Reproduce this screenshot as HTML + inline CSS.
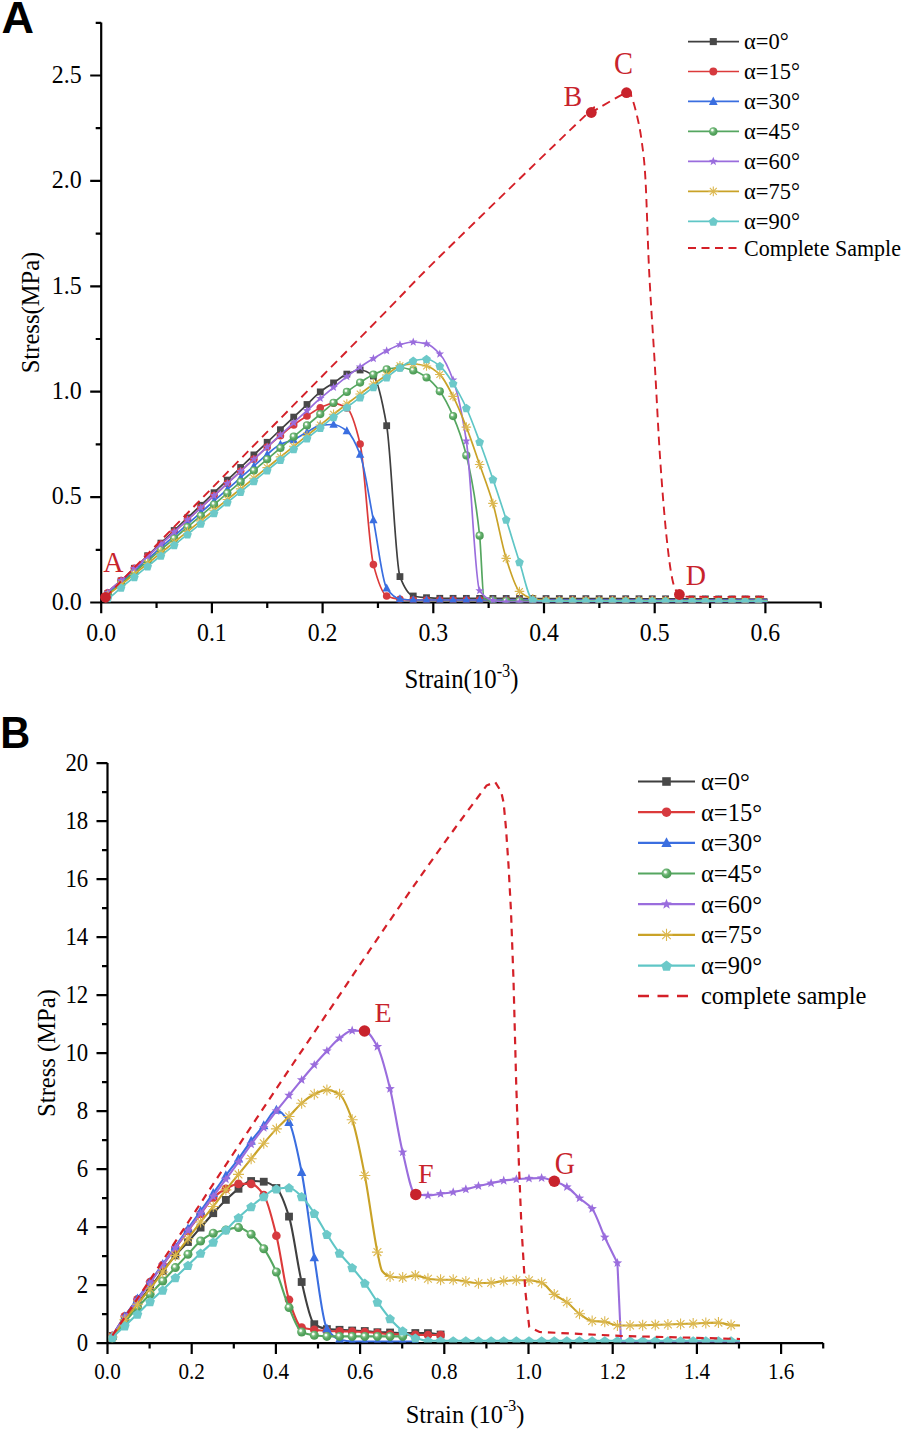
<!DOCTYPE html>
<html><head><meta charset="utf-8"><style>
html,body{margin:0;padding:0;background:#fff;width:901px;height:1431px;overflow:hidden}
svg{display:block}
</style></head><body>
<svg width="901" height="1431" viewBox="0 0 901 1431">
<defs>
<radialGradient id="sph" cx="0.42" cy="0.4" r="0.6" fx="0.38" fy="0.34">
<stop offset="0" stop-color="#ffffff"/><stop offset="0.16" stop-color="#f4fbf4"/><stop offset="0.34" stop-color="#86c48a"/><stop offset="0.62" stop-color="#5aa864"/><stop offset="1" stop-color="#4a9a53"/>
</radialGradient>
<clipPath id="clipA"><rect x="102.3" y="10" width="719" height="592.4"/></clipPath>
<clipPath id="clipB"><rect x="108.6" y="750" width="715" height="592.6"/></clipPath>
</defs>
<rect width="901" height="1431" fill="#fff"/>
<text transform="translate(1.60,32.60) scale(1.0,0.99)" x="0" y="0" font-family="'Liberation Sans', sans-serif" font-size="45" text-anchor="start" fill="#000" font-weight="bold" >A</text><path d="M101.2,602.5H821.5M101.2,22.5V602.5M101.20,602.5v10.8M211.90,602.5v10.8M322.60,602.5v10.8M433.30,602.5v10.8M544.00,602.5v10.8M654.70,602.5v10.8M765.40,602.5v10.8M156.55,602.5v5.5M267.25,602.5v5.5M377.95,602.5v5.5M488.65,602.5v5.5M599.35,602.5v5.5M710.05,602.5v5.5M820.75,602.5v5.5M101.2,602.50h-11M101.2,497.10h-11M101.2,391.70h-11M101.2,286.30h-11M101.2,180.90h-11M101.2,75.50h-11M101.2,549.80h-5.5M101.2,444.40h-5.5M101.2,339.00h-5.5M101.2,233.60h-5.5M101.2,128.20h-5.5M101.2,22.80h-5.5" stroke="#000" stroke-width="2.2" fill="none" stroke-linecap="butt"/><text transform="translate(101.20,641.00) scale(0.99,1.05)" x="0" y="0" font-family="'Liberation Serif', serif" font-size="24" text-anchor="middle" fill="#000" font-weight="normal" >0.0</text><text transform="translate(211.90,641.00) scale(0.99,1.05)" x="0" y="0" font-family="'Liberation Serif', serif" font-size="24" text-anchor="middle" fill="#000" font-weight="normal" >0.1</text><text transform="translate(322.60,641.00) scale(0.99,1.05)" x="0" y="0" font-family="'Liberation Serif', serif" font-size="24" text-anchor="middle" fill="#000" font-weight="normal" >0.2</text><text transform="translate(433.30,641.00) scale(0.99,1.05)" x="0" y="0" font-family="'Liberation Serif', serif" font-size="24" text-anchor="middle" fill="#000" font-weight="normal" >0.3</text><text transform="translate(544.00,641.00) scale(0.99,1.05)" x="0" y="0" font-family="'Liberation Serif', serif" font-size="24" text-anchor="middle" fill="#000" font-weight="normal" >0.4</text><text transform="translate(654.70,641.00) scale(0.99,1.05)" x="0" y="0" font-family="'Liberation Serif', serif" font-size="24" text-anchor="middle" fill="#000" font-weight="normal" >0.5</text><text transform="translate(765.40,641.00) scale(0.99,1.05)" x="0" y="0" font-family="'Liberation Serif', serif" font-size="24" text-anchor="middle" fill="#000" font-weight="normal" >0.6</text><text transform="translate(81.70,609.80) scale(1.0,1.09)" x="0" y="0" font-family="'Liberation Serif', serif" font-size="24" text-anchor="end" fill="#000" font-weight="normal" >0.0</text><text transform="translate(81.70,504.40) scale(1.0,1.09)" x="0" y="0" font-family="'Liberation Serif', serif" font-size="24" text-anchor="end" fill="#000" font-weight="normal" >0.5</text><text transform="translate(81.70,399.00) scale(1.0,1.09)" x="0" y="0" font-family="'Liberation Serif', serif" font-size="24" text-anchor="end" fill="#000" font-weight="normal" >1.0</text><text transform="translate(81.70,293.60) scale(1.0,1.09)" x="0" y="0" font-family="'Liberation Serif', serif" font-size="24" text-anchor="end" fill="#000" font-weight="normal" >1.5</text><text transform="translate(81.70,188.20) scale(1.0,1.09)" x="0" y="0" font-family="'Liberation Serif', serif" font-size="24" text-anchor="end" fill="#000" font-weight="normal" >2.0</text><text transform="translate(81.70,82.80) scale(1.0,1.09)" x="0" y="0" font-family="'Liberation Serif', serif" font-size="24" text-anchor="end" fill="#000" font-weight="normal" >2.5</text><text x="0.00" y="0.00" font-family="'Liberation Serif', serif" font-size="24.6" text-anchor="middle" fill="#000" font-weight="normal" transform="translate(38.9,312.5) rotate(-90) scale(1,1.03)">Stress(MPa)</text><text transform="translate(461.5,688) scale(1,1.08)" x="0" y="0" font-family="'Liberation Serif', serif" font-size="24.8" text-anchor="middle">Strain(10<tspan font-size="16.5" dy="-10.5">-3</tspan><tspan dy="10.5">)</tspan></text><g clip-path="url(#clipA)"><path d="M105.00,599.00C105.93,597.17 106.87,594.79 107.80,593.50C112.23,587.37 116.65,585.10 121.08,580.90C125.51,576.70 129.93,572.50 134.36,568.30C138.79,564.10 143.21,559.90 147.64,555.70C152.07,551.50 156.49,547.30 160.92,543.10C165.35,538.90 169.77,534.70 174.20,530.50C178.63,526.30 183.05,522.10 187.48,517.90C191.91,513.70 196.33,509.50 200.76,505.30C205.19,501.10 209.61,496.90 214.04,492.70C218.47,488.50 222.89,484.30 227.32,480.10C231.75,475.90 236.17,471.70 240.60,467.50C245.03,463.30 249.45,459.10 253.88,454.90C258.31,450.70 262.73,446.50 267.16,442.30C271.59,438.10 276.01,433.90 280.44,429.70C284.87,425.50 289.29,421.30 293.72,417.10C298.15,412.90 302.57,408.70 307.00,404.50C311.43,400.30 315.85,395.40 320.28,391.90C324.71,388.40 329.13,385.87 333.56,382.90C337.99,379.93 342.41,375.96 346.84,374.10C351.27,372.24 355.69,370.00 360.12,370.00C364.55,370.00 368.97,372.43 373.40,376.00C377.83,379.57 382.25,400.78 386.68,425.70C391.11,450.62 395.53,565.14 399.96,576.60C404.39,588.06 408.81,594.96 413.24,596.00C417.67,597.04 422.09,597.40 426.52,597.70C430.95,598.00 435.37,598.28 439.80,598.30C444.23,598.32 448.65,598.32 453.08,598.33C457.51,598.34 461.93,598.35 466.36,598.36C470.79,598.37 475.21,598.38 479.64,598.39C484.07,598.40 488.49,598.41 492.92,598.42C497.35,598.43 501.77,598.44 506.20,598.45C510.63,598.46 515.05,598.47 519.48,598.48C523.91,598.49 528.33,598.50 532.76,598.51C537.19,598.52 541.61,598.53 546.04,598.54C550.47,598.55 554.89,598.56 559.32,598.57C563.75,598.58 568.17,598.59 572.60,598.60C577.03,598.61 581.45,598.62 585.88,598.63C590.31,598.64 594.73,598.65 599.16,598.66C603.59,598.67 608.01,598.68 612.44,598.69C616.87,598.70 621.29,598.71 625.72,598.72C630.15,598.73 634.57,598.74 639.00,598.75C643.43,598.76 647.85,598.77 652.28,598.78C656.71,598.79 661.13,598.80 665.56,598.81C669.99,598.82 674.41,598.83 678.84,598.84C683.27,598.85 687.69,598.86 692.12,598.87C696.55,598.88 700.97,598.89 705.40,598.90C709.83,598.91 714.25,598.92 718.68,598.93C723.11,598.94 727.53,598.95 731.96,598.96C736.39,598.97 740.81,598.98 745.24,598.99C749.67,599.00 754.09,599.02 758.52,599.02C761.51,599.02 764.51,599.02 767.50,599.02" stroke="#3f3f3f" stroke-width="1.7" fill="none" stroke-linejoin="round"/><rect x="104.40" y="590.10" width="6.80" height="6.80" fill="#484848"/><rect x="117.68" y="577.50" width="6.80" height="6.80" fill="#484848"/><rect x="130.96" y="564.90" width="6.80" height="6.80" fill="#484848"/><rect x="144.24" y="552.30" width="6.80" height="6.80" fill="#484848"/><rect x="157.52" y="539.70" width="6.80" height="6.80" fill="#484848"/><rect x="170.80" y="527.10" width="6.80" height="6.80" fill="#484848"/><rect x="184.08" y="514.50" width="6.80" height="6.80" fill="#484848"/><rect x="197.36" y="501.90" width="6.80" height="6.80" fill="#484848"/><rect x="210.64" y="489.30" width="6.80" height="6.80" fill="#484848"/><rect x="223.92" y="476.70" width="6.80" height="6.80" fill="#484848"/><rect x="237.20" y="464.10" width="6.80" height="6.80" fill="#484848"/><rect x="250.48" y="451.50" width="6.80" height="6.80" fill="#484848"/><rect x="263.76" y="438.90" width="6.80" height="6.80" fill="#484848"/><rect x="277.04" y="426.30" width="6.80" height="6.80" fill="#484848"/><rect x="290.32" y="413.70" width="6.80" height="6.80" fill="#484848"/><rect x="303.60" y="401.10" width="6.80" height="6.80" fill="#484848"/><rect x="316.88" y="388.50" width="6.80" height="6.80" fill="#484848"/><rect x="330.16" y="379.50" width="6.80" height="6.80" fill="#484848"/><rect x="343.44" y="370.70" width="6.80" height="6.80" fill="#484848"/><rect x="356.72" y="366.60" width="6.80" height="6.80" fill="#484848"/><rect x="370.00" y="372.60" width="6.80" height="6.80" fill="#484848"/><rect x="383.28" y="422.30" width="6.80" height="6.80" fill="#484848"/><rect x="396.56" y="573.20" width="6.80" height="6.80" fill="#484848"/><rect x="409.84" y="592.60" width="6.80" height="6.80" fill="#484848"/><rect x="423.12" y="594.30" width="6.80" height="6.80" fill="#484848"/><rect x="436.40" y="594.90" width="6.80" height="6.80" fill="#484848"/><rect x="449.68" y="594.93" width="6.80" height="6.80" fill="#484848"/><rect x="462.96" y="594.96" width="6.80" height="6.80" fill="#484848"/><rect x="476.24" y="594.99" width="6.80" height="6.80" fill="#484848"/><rect x="489.52" y="595.02" width="6.80" height="6.80" fill="#484848"/><rect x="502.80" y="595.05" width="6.80" height="6.80" fill="#484848"/><rect x="516.08" y="595.08" width="6.80" height="6.80" fill="#484848"/><rect x="529.36" y="595.11" width="6.80" height="6.80" fill="#484848"/><rect x="542.64" y="595.14" width="6.80" height="6.80" fill="#484848"/><rect x="555.92" y="595.17" width="6.80" height="6.80" fill="#484848"/><rect x="569.20" y="595.20" width="6.80" height="6.80" fill="#484848"/><rect x="582.48" y="595.23" width="6.80" height="6.80" fill="#484848"/><rect x="595.76" y="595.26" width="6.80" height="6.80" fill="#484848"/><rect x="609.04" y="595.29" width="6.80" height="6.80" fill="#484848"/><rect x="622.32" y="595.32" width="6.80" height="6.80" fill="#484848"/><rect x="635.60" y="595.35" width="6.80" height="6.80" fill="#484848"/><rect x="648.88" y="595.38" width="6.80" height="6.80" fill="#484848"/><rect x="662.16" y="595.41" width="6.80" height="6.80" fill="#484848"/><rect x="675.44" y="595.44" width="6.80" height="6.80" fill="#484848"/><rect x="688.72" y="595.47" width="6.80" height="6.80" fill="#484848"/><rect x="702.00" y="595.50" width="6.80" height="6.80" fill="#484848"/><rect x="715.28" y="595.53" width="6.80" height="6.80" fill="#484848"/><rect x="728.56" y="595.56" width="6.80" height="6.80" fill="#484848"/><rect x="741.84" y="595.59" width="6.80" height="6.80" fill="#484848"/><rect x="755.12" y="595.62" width="6.80" height="6.80" fill="#484848"/><path d="M105.00,599.00C105.93,596.90 106.87,594.04 107.80,592.70C112.23,586.36 116.65,584.61 121.08,580.56C125.51,576.51 129.93,572.47 134.36,568.42C138.79,564.37 143.21,560.33 147.64,556.28C152.07,552.23 156.49,548.19 160.92,544.14C165.35,540.09 169.77,536.05 174.20,532.00C178.63,527.95 183.05,523.91 187.48,519.86C191.91,515.81 196.33,511.77 200.76,507.72C205.19,503.67 209.61,499.63 214.04,495.58C218.47,491.53 222.89,487.49 227.32,483.44C231.75,479.39 236.17,475.35 240.60,471.30C245.03,467.25 249.45,463.21 253.88,459.16C258.31,455.11 262.73,450.93 267.16,447.02C271.59,443.11 276.01,439.38 280.44,435.70C284.87,432.02 289.29,428.15 293.72,424.90C298.15,421.65 302.57,418.86 307.00,416.00C311.43,413.14 315.85,409.62 320.28,407.70C324.71,405.78 329.13,403.30 333.56,403.30C337.99,403.30 342.41,405.23 346.84,408.00C351.27,410.77 355.69,425.52 360.12,444.00C364.55,462.48 368.97,547.99 373.40,564.60C377.83,581.21 382.25,594.01 386.68,596.00C391.11,597.99 395.53,598.91 399.96,599.30C404.39,599.68 408.81,600.00 413.24,600.00C417.67,600.00 422.09,600.00 426.52,600.00C430.95,600.00 435.37,600.00 439.80,600.00C444.23,600.00 448.65,600.00 453.08,600.00C457.51,600.00 461.93,600.00 466.36,600.00C470.79,600.00 475.21,600.00 479.64,600.00C484.07,600.00 488.49,600.00 492.92,600.00C497.35,600.00 501.77,600.00 506.20,600.00C510.63,600.00 515.05,600.00 519.48,600.00C523.91,600.00 528.33,600.00 532.76,600.00C537.19,600.00 541.61,600.00 546.04,600.00C550.47,600.00 554.89,600.00 559.32,600.00C563.75,600.00 568.17,600.00 572.60,600.00C577.03,600.00 581.45,600.00 585.88,600.00C590.31,600.00 594.73,600.00 599.16,600.00C603.59,600.00 608.01,600.00 612.44,600.00C616.87,600.00 621.29,600.00 625.72,600.00C630.15,600.00 634.57,600.00 639.00,600.00C643.43,600.00 647.85,600.00 652.28,600.00C656.71,600.00 661.13,600.00 665.56,600.00C669.99,600.00 674.41,600.00 678.84,600.00C683.27,600.00 687.69,600.00 692.12,600.00C696.55,600.00 700.97,600.00 705.40,600.00C709.83,600.00 714.25,600.00 718.68,600.00C723.11,600.00 727.53,600.00 731.96,600.00C736.39,600.00 740.81,600.00 745.24,600.00C749.67,600.00 754.09,600.00 758.52,600.00C761.51,600.00 764.51,600.00 767.50,600.00" stroke="#dc3a3a" stroke-width="1.7" fill="none" stroke-linejoin="round"/><circle cx="107.80" cy="592.70" r="3.80" fill="#d63a3f"/><circle cx="121.08" cy="580.56" r="3.80" fill="#d63a3f"/><circle cx="134.36" cy="568.42" r="3.80" fill="#d63a3f"/><circle cx="147.64" cy="556.28" r="3.80" fill="#d63a3f"/><circle cx="160.92" cy="544.14" r="3.80" fill="#d63a3f"/><circle cx="174.20" cy="532.00" r="3.80" fill="#d63a3f"/><circle cx="187.48" cy="519.86" r="3.80" fill="#d63a3f"/><circle cx="200.76" cy="507.72" r="3.80" fill="#d63a3f"/><circle cx="214.04" cy="495.58" r="3.80" fill="#d63a3f"/><circle cx="227.32" cy="483.44" r="3.80" fill="#d63a3f"/><circle cx="240.60" cy="471.30" r="3.80" fill="#d63a3f"/><circle cx="253.88" cy="459.16" r="3.80" fill="#d63a3f"/><circle cx="267.16" cy="447.02" r="3.80" fill="#d63a3f"/><circle cx="280.44" cy="435.70" r="3.80" fill="#d63a3f"/><circle cx="293.72" cy="424.90" r="3.80" fill="#d63a3f"/><circle cx="307.00" cy="416.00" r="3.80" fill="#d63a3f"/><circle cx="320.28" cy="407.70" r="3.80" fill="#d63a3f"/><circle cx="333.56" cy="403.30" r="3.80" fill="#d63a3f"/><circle cx="346.84" cy="408.00" r="3.80" fill="#d63a3f"/><circle cx="360.12" cy="444.00" r="3.80" fill="#d63a3f"/><circle cx="373.40" cy="564.60" r="3.80" fill="#d63a3f"/><circle cx="386.68" cy="596.00" r="3.80" fill="#d63a3f"/><circle cx="399.96" cy="599.30" r="3.80" fill="#d63a3f"/><circle cx="413.24" cy="600.00" r="3.80" fill="#d63a3f"/><circle cx="426.52" cy="600.00" r="3.80" fill="#d63a3f"/><circle cx="439.80" cy="600.00" r="3.80" fill="#d63a3f"/><circle cx="453.08" cy="600.00" r="3.80" fill="#d63a3f"/><circle cx="466.36" cy="600.00" r="3.80" fill="#d63a3f"/><circle cx="479.64" cy="600.00" r="3.80" fill="#d63a3f"/><circle cx="492.92" cy="600.00" r="3.80" fill="#d63a3f"/><circle cx="506.20" cy="600.00" r="3.80" fill="#d63a3f"/><circle cx="519.48" cy="600.00" r="3.80" fill="#d63a3f"/><circle cx="532.76" cy="600.00" r="3.80" fill="#d63a3f"/><circle cx="546.04" cy="600.00" r="3.80" fill="#d63a3f"/><circle cx="559.32" cy="600.00" r="3.80" fill="#d63a3f"/><circle cx="572.60" cy="600.00" r="3.80" fill="#d63a3f"/><circle cx="585.88" cy="600.00" r="3.80" fill="#d63a3f"/><circle cx="599.16" cy="600.00" r="3.80" fill="#d63a3f"/><circle cx="612.44" cy="600.00" r="3.80" fill="#d63a3f"/><circle cx="625.72" cy="600.00" r="3.80" fill="#d63a3f"/><circle cx="639.00" cy="600.00" r="3.80" fill="#d63a3f"/><circle cx="652.28" cy="600.00" r="3.80" fill="#d63a3f"/><circle cx="665.56" cy="600.00" r="3.80" fill="#d63a3f"/><circle cx="678.84" cy="600.00" r="3.80" fill="#d63a3f"/><circle cx="692.12" cy="600.00" r="3.80" fill="#d63a3f"/><circle cx="705.40" cy="600.00" r="3.80" fill="#d63a3f"/><circle cx="718.68" cy="600.00" r="3.80" fill="#d63a3f"/><circle cx="731.96" cy="600.00" r="3.80" fill="#d63a3f"/><circle cx="745.24" cy="600.00" r="3.80" fill="#d63a3f"/><circle cx="758.52" cy="600.00" r="3.80" fill="#d63a3f"/><path d="M105.00,599.00C105.93,597.33 106.87,595.18 107.80,594.00C112.23,588.38 116.65,586.25 121.08,582.37C125.51,578.49 129.93,574.62 134.36,570.74C138.79,566.86 143.21,562.99 147.64,559.11C152.07,555.23 156.49,551.36 160.92,547.48C165.35,543.60 169.77,539.73 174.20,535.85C178.63,531.97 183.05,528.10 187.48,524.22C191.91,520.34 196.33,516.47 200.76,512.59C205.19,508.71 209.61,504.84 214.04,500.96C218.47,497.08 222.89,493.21 227.32,489.33C231.75,485.45 236.17,481.58 240.60,477.70C245.03,473.82 249.45,469.95 253.88,466.07C258.31,462.19 262.73,458.01 267.16,454.40C271.59,450.79 276.01,446.38 280.44,444.30C284.87,442.22 289.29,441.69 293.72,439.80C298.15,437.91 302.57,434.49 307.00,432.10C311.43,429.71 315.85,425.93 320.28,425.40C324.71,424.87 329.13,424.50 333.56,424.50C337.99,424.50 342.41,427.61 346.84,431.00C351.27,434.39 355.69,442.97 360.12,454.50C364.55,466.03 368.97,497.73 373.40,520.00C377.83,542.27 382.25,581.98 386.68,588.20C391.11,594.42 395.53,598.39 399.96,599.00C404.39,599.61 408.81,600.00 413.24,600.00C417.67,600.00 422.09,600.00 426.52,600.00C430.95,600.00 435.37,600.00 439.80,600.00C444.23,600.00 448.65,600.00 453.08,600.00C457.51,600.00 461.93,600.00 466.36,600.00C470.79,600.00 475.21,600.00 479.64,600.00C484.07,600.00 488.49,600.00 492.92,600.00C497.35,600.00 501.77,600.00 506.20,600.00C510.63,600.00 515.05,600.00 519.48,600.00C523.91,600.00 528.33,600.00 532.76,600.00C537.19,600.00 541.61,600.00 546.04,600.00C550.47,600.00 554.89,600.00 559.32,600.00C563.75,600.00 568.17,600.00 572.60,600.00C577.03,600.00 581.45,600.00 585.88,600.00C590.31,600.00 594.73,600.00 599.16,600.00C603.59,600.00 608.01,600.00 612.44,600.00C616.87,600.00 621.29,600.00 625.72,600.00C630.15,600.00 634.57,600.00 639.00,600.00C643.43,600.00 647.85,600.00 652.28,600.00C656.71,600.00 661.13,600.00 665.56,600.00C669.99,600.00 674.41,600.00 678.84,600.00C683.27,600.00 687.69,600.00 692.12,600.00C696.55,600.00 700.97,600.00 705.40,600.00C709.83,600.00 714.25,600.00 718.68,600.00C723.11,600.00 727.53,600.00 731.96,600.00C736.39,600.00 740.81,600.00 745.24,600.00C749.67,600.00 754.09,600.00 758.52,600.00C761.51,600.00 764.51,600.00 767.50,600.00" stroke="#3a6ee0" stroke-width="1.7" fill="none" stroke-linejoin="round"/><path d="M107.80,589.37L112.00,597.35L103.60,597.35Z" fill="#3a6ee0"/><path d="M121.08,577.74L125.28,585.72L116.88,585.72Z" fill="#3a6ee0"/><path d="M134.36,566.11L138.56,574.09L130.16,574.09Z" fill="#3a6ee0"/><path d="M147.64,554.48L151.84,562.46L143.44,562.46Z" fill="#3a6ee0"/><path d="M160.92,542.85L165.12,550.83L156.72,550.83Z" fill="#3a6ee0"/><path d="M174.20,531.22L178.40,539.20L170.00,539.20Z" fill="#3a6ee0"/><path d="M187.48,519.59L191.68,527.57L183.28,527.57Z" fill="#3a6ee0"/><path d="M200.76,507.96L204.96,515.94L196.56,515.94Z" fill="#3a6ee0"/><path d="M214.04,496.33L218.24,504.31L209.84,504.31Z" fill="#3a6ee0"/><path d="M227.32,484.70L231.52,492.68L223.12,492.68Z" fill="#3a6ee0"/><path d="M240.60,473.07L244.80,481.05L236.40,481.05Z" fill="#3a6ee0"/><path d="M253.88,461.44L258.08,469.42L249.68,469.42Z" fill="#3a6ee0"/><path d="M267.16,449.77L271.36,457.75L262.96,457.75Z" fill="#3a6ee0"/><path d="M280.44,439.67L284.64,447.65L276.24,447.65Z" fill="#3a6ee0"/><path d="M293.72,435.17L297.92,443.15L289.52,443.15Z" fill="#3a6ee0"/><path d="M307.00,427.47L311.20,435.45L302.80,435.45Z" fill="#3a6ee0"/><path d="M320.28,420.77L324.48,428.75L316.08,428.75Z" fill="#3a6ee0"/><path d="M333.56,419.87L337.76,427.85L329.36,427.85Z" fill="#3a6ee0"/><path d="M346.84,426.37L351.04,434.35L342.64,434.35Z" fill="#3a6ee0"/><path d="M360.12,449.87L364.32,457.85L355.92,457.85Z" fill="#3a6ee0"/><path d="M373.40,515.37L377.60,523.35L369.20,523.35Z" fill="#3a6ee0"/><path d="M386.68,583.57L390.88,591.55L382.48,591.55Z" fill="#3a6ee0"/><path d="M399.96,594.37L404.16,602.35L395.76,602.35Z" fill="#3a6ee0"/><path d="M413.24,595.37L417.44,603.35L409.04,603.35Z" fill="#3a6ee0"/><path d="M426.52,595.37L430.72,603.35L422.32,603.35Z" fill="#3a6ee0"/><path d="M439.80,595.37L444.00,603.35L435.60,603.35Z" fill="#3a6ee0"/><path d="M453.08,595.37L457.28,603.35L448.88,603.35Z" fill="#3a6ee0"/><path d="M466.36,595.37L470.56,603.35L462.16,603.35Z" fill="#3a6ee0"/><path d="M479.64,595.37L483.84,603.35L475.44,603.35Z" fill="#3a6ee0"/><path d="M492.92,595.37L497.12,603.35L488.72,603.35Z" fill="#3a6ee0"/><path d="M506.20,595.37L510.40,603.35L502.00,603.35Z" fill="#3a6ee0"/><path d="M519.48,595.37L523.68,603.35L515.28,603.35Z" fill="#3a6ee0"/><path d="M532.76,595.37L536.96,603.35L528.56,603.35Z" fill="#3a6ee0"/><path d="M546.04,595.37L550.24,603.35L541.84,603.35Z" fill="#3a6ee0"/><path d="M559.32,595.37L563.52,603.35L555.12,603.35Z" fill="#3a6ee0"/><path d="M572.60,595.37L576.80,603.35L568.40,603.35Z" fill="#3a6ee0"/><path d="M585.88,595.37L590.08,603.35L581.68,603.35Z" fill="#3a6ee0"/><path d="M599.16,595.37L603.36,603.35L594.96,603.35Z" fill="#3a6ee0"/><path d="M612.44,595.37L616.64,603.35L608.24,603.35Z" fill="#3a6ee0"/><path d="M625.72,595.37L629.92,603.35L621.52,603.35Z" fill="#3a6ee0"/><path d="M639.00,595.37L643.20,603.35L634.80,603.35Z" fill="#3a6ee0"/><path d="M652.28,595.37L656.48,603.35L648.08,603.35Z" fill="#3a6ee0"/><path d="M665.56,595.37L669.76,603.35L661.36,603.35Z" fill="#3a6ee0"/><path d="M678.84,595.37L683.04,603.35L674.64,603.35Z" fill="#3a6ee0"/><path d="M692.12,595.37L696.32,603.35L687.92,603.35Z" fill="#3a6ee0"/><path d="M705.40,595.37L709.60,603.35L701.20,603.35Z" fill="#3a6ee0"/><path d="M718.68,595.37L722.88,603.35L714.48,603.35Z" fill="#3a6ee0"/><path d="M731.96,595.37L736.16,603.35L727.76,603.35Z" fill="#3a6ee0"/><path d="M745.24,595.37L749.44,603.35L741.04,603.35Z" fill="#3a6ee0"/><path d="M758.52,595.37L762.72,603.35L754.32,603.35Z" fill="#3a6ee0"/><path d="M105.00,599.00C105.93,597.63 106.87,595.97 107.80,594.90C112.23,589.84 116.65,587.37 121.08,583.60C125.51,579.83 129.93,576.07 134.36,572.30C138.79,568.53 143.21,564.77 147.64,561.00C152.07,557.23 156.49,553.47 160.92,549.70C165.35,545.93 169.77,542.17 174.20,538.40C178.63,534.63 183.05,530.87 187.48,527.10C191.91,523.33 196.33,519.57 200.76,515.80C205.19,512.03 209.61,508.27 214.04,504.50C218.47,500.73 222.89,496.97 227.32,493.20C231.75,489.43 236.17,485.67 240.60,481.90C245.03,478.13 249.45,474.37 253.88,470.60C258.31,466.83 262.73,463.07 267.16,459.30C271.59,455.53 276.01,451.77 280.44,448.00C284.87,444.23 289.29,440.47 293.72,436.70C298.15,432.93 302.57,429.17 307.00,425.40C311.43,421.63 315.85,417.87 320.28,414.10C324.71,410.33 329.13,406.50 333.56,402.80C337.99,399.10 342.41,395.25 346.84,391.90C351.27,388.55 355.69,385.47 360.12,382.60C364.55,379.73 368.97,376.73 373.40,374.60C377.83,372.47 382.25,370.20 386.68,369.30C391.11,368.40 395.53,367.50 399.96,367.50C404.39,367.50 408.81,369.03 413.24,370.40C417.67,371.77 422.09,374.37 426.52,377.50C430.95,380.63 435.37,385.39 439.80,391.30C444.23,397.21 448.65,405.96 453.08,416.10C457.51,426.24 461.93,437.81 466.36,455.40C470.79,472.99 475.21,495.21 479.64,535.70C481.09,548.99 482.55,597.78 484.00,598.50C486.97,599.98 489.95,600.30 492.92,600.50C497.35,600.80 501.77,601.00 506.20,601.00C510.63,601.00 515.05,601.00 519.48,601.00C523.91,601.00 528.33,601.00 532.76,601.00C537.19,601.00 541.61,601.00 546.04,601.00C550.47,601.00 554.89,601.00 559.32,601.00C563.75,601.00 568.17,601.00 572.60,601.00C577.03,601.00 581.45,601.00 585.88,601.00C590.31,601.00 594.73,601.00 599.16,601.00C603.59,601.00 608.01,601.00 612.44,601.00C616.87,601.00 621.29,601.00 625.72,601.00C630.15,601.00 634.57,601.00 639.00,601.00C643.43,601.00 647.85,601.00 652.28,601.00C656.71,601.00 661.13,601.00 665.56,601.00C669.99,601.00 674.41,601.00 678.84,601.00C683.27,601.00 687.69,601.00 692.12,601.00C696.55,601.00 700.97,601.00 705.40,601.00C709.83,601.00 714.25,601.00 718.68,601.00C723.11,601.00 727.53,601.00 731.96,601.00C736.39,601.00 740.81,601.00 745.24,601.00C749.67,601.00 754.09,601.00 758.52,601.00C761.51,601.00 764.51,601.00 767.50,601.00" stroke="#55a660" stroke-width="1.7" fill="none" stroke-linejoin="round"/><circle cx="107.80" cy="594.90" r="4.10" fill="url(#sph)"/><circle cx="121.08" cy="583.60" r="4.10" fill="url(#sph)"/><circle cx="134.36" cy="572.30" r="4.10" fill="url(#sph)"/><circle cx="147.64" cy="561.00" r="4.10" fill="url(#sph)"/><circle cx="160.92" cy="549.70" r="4.10" fill="url(#sph)"/><circle cx="174.20" cy="538.40" r="4.10" fill="url(#sph)"/><circle cx="187.48" cy="527.10" r="4.10" fill="url(#sph)"/><circle cx="200.76" cy="515.80" r="4.10" fill="url(#sph)"/><circle cx="214.04" cy="504.50" r="4.10" fill="url(#sph)"/><circle cx="227.32" cy="493.20" r="4.10" fill="url(#sph)"/><circle cx="240.60" cy="481.90" r="4.10" fill="url(#sph)"/><circle cx="253.88" cy="470.60" r="4.10" fill="url(#sph)"/><circle cx="267.16" cy="459.30" r="4.10" fill="url(#sph)"/><circle cx="280.44" cy="448.00" r="4.10" fill="url(#sph)"/><circle cx="293.72" cy="436.70" r="4.10" fill="url(#sph)"/><circle cx="307.00" cy="425.40" r="4.10" fill="url(#sph)"/><circle cx="320.28" cy="414.10" r="4.10" fill="url(#sph)"/><circle cx="333.56" cy="402.80" r="4.10" fill="url(#sph)"/><circle cx="346.84" cy="391.90" r="4.10" fill="url(#sph)"/><circle cx="360.12" cy="382.60" r="4.10" fill="url(#sph)"/><circle cx="373.40" cy="374.60" r="4.10" fill="url(#sph)"/><circle cx="386.68" cy="369.30" r="4.10" fill="url(#sph)"/><circle cx="399.96" cy="367.50" r="4.10" fill="url(#sph)"/><circle cx="413.24" cy="370.40" r="4.10" fill="url(#sph)"/><circle cx="426.52" cy="377.50" r="4.10" fill="url(#sph)"/><circle cx="439.80" cy="391.30" r="4.10" fill="url(#sph)"/><circle cx="453.08" cy="416.10" r="4.10" fill="url(#sph)"/><circle cx="466.36" cy="455.40" r="4.10" fill="url(#sph)"/><circle cx="479.64" cy="535.70" r="4.10" fill="url(#sph)"/><circle cx="492.92" cy="600.50" r="4.10" fill="url(#sph)"/><circle cx="506.20" cy="601.00" r="4.10" fill="url(#sph)"/><circle cx="519.48" cy="601.00" r="4.10" fill="url(#sph)"/><circle cx="532.76" cy="601.00" r="4.10" fill="url(#sph)"/><circle cx="546.04" cy="601.00" r="4.10" fill="url(#sph)"/><circle cx="559.32" cy="601.00" r="4.10" fill="url(#sph)"/><circle cx="572.60" cy="601.00" r="4.10" fill="url(#sph)"/><circle cx="585.88" cy="601.00" r="4.10" fill="url(#sph)"/><circle cx="599.16" cy="601.00" r="4.10" fill="url(#sph)"/><circle cx="612.44" cy="601.00" r="4.10" fill="url(#sph)"/><circle cx="625.72" cy="601.00" r="4.10" fill="url(#sph)"/><circle cx="639.00" cy="601.00" r="4.10" fill="url(#sph)"/><circle cx="652.28" cy="601.00" r="4.10" fill="url(#sph)"/><circle cx="665.56" cy="601.00" r="4.10" fill="url(#sph)"/><circle cx="678.84" cy="601.00" r="4.10" fill="url(#sph)"/><circle cx="692.12" cy="601.00" r="4.10" fill="url(#sph)"/><circle cx="705.40" cy="601.00" r="4.10" fill="url(#sph)"/><circle cx="718.68" cy="601.00" r="4.10" fill="url(#sph)"/><circle cx="731.96" cy="601.00" r="4.10" fill="url(#sph)"/><circle cx="745.24" cy="601.00" r="4.10" fill="url(#sph)"/><circle cx="758.52" cy="601.00" r="4.10" fill="url(#sph)"/><path d="M105.00,599.00C105.93,596.90 106.87,594.04 107.80,592.70C112.23,586.36 116.65,584.61 121.08,580.56C125.51,576.51 129.93,572.47 134.36,568.42C138.79,564.37 143.21,560.33 147.64,556.28C152.07,552.23 156.49,548.19 160.92,544.14C165.35,540.09 169.77,536.05 174.20,532.00C178.63,527.95 183.05,523.91 187.48,519.86C191.91,515.81 196.33,511.77 200.76,507.72C205.19,503.67 209.61,499.63 214.04,495.58C218.47,491.53 222.89,487.49 227.32,483.44C231.75,479.39 236.17,475.35 240.60,471.30C245.03,467.25 249.45,463.21 253.88,459.16C258.31,455.11 262.73,451.07 267.16,447.02C271.59,442.97 276.01,438.93 280.44,434.88C284.87,430.83 289.29,426.79 293.72,422.74C298.15,418.69 302.57,414.65 307.00,410.60C311.43,406.55 315.85,402.32 320.28,398.46C324.71,394.60 329.13,391.04 333.56,387.40C337.99,383.76 342.41,379.99 346.84,376.60C351.27,373.21 355.69,369.99 360.12,367.00C364.55,364.01 368.97,361.30 373.40,358.60C377.83,355.90 382.25,353.08 386.68,350.80C391.11,348.52 395.53,345.95 399.96,344.70C404.39,343.45 408.81,342.00 413.24,342.00C417.67,342.00 422.09,342.78 426.52,343.80C430.95,344.82 435.37,349.12 439.80,354.00C444.23,358.88 448.65,367.85 453.08,380.00C457.51,392.15 461.93,412.11 466.36,441.00C470.79,469.89 475.21,584.57 479.64,590.70C484.07,596.83 488.49,599.63 492.92,600.50C497.35,601.37 501.77,602.00 506.20,602.00C510.63,602.00 515.05,602.00 519.48,602.00C523.91,602.00 528.33,602.00 532.76,602.00C537.19,602.00 541.61,602.00 546.04,602.00C550.47,602.00 554.89,602.00 559.32,602.00C563.75,602.00 568.17,602.00 572.60,602.00C577.03,602.00 581.45,602.00 585.88,602.00C590.31,602.00 594.73,602.00 599.16,602.00C603.59,602.00 608.01,602.00 612.44,602.00C616.87,602.00 621.29,602.00 625.72,602.00C630.15,602.00 634.57,602.00 639.00,602.00C643.43,602.00 647.85,602.00 652.28,602.00C656.71,602.00 661.13,602.00 665.56,602.00C669.99,602.00 674.41,602.00 678.84,602.00C683.27,602.00 687.69,602.00 692.12,602.00C696.55,602.00 700.97,602.00 705.40,602.00C709.83,602.00 714.25,602.00 718.68,602.00C723.11,602.00 727.53,602.00 731.96,602.00C736.39,602.00 740.81,602.00 745.24,602.00C749.67,602.00 754.09,602.00 758.52,602.00C761.51,602.00 764.51,602.00 767.50,602.00" stroke="#9a6ddd" stroke-width="1.7" fill="none" stroke-linejoin="round"/><path d="M107.80,588.20 L108.91,591.17 L112.08,591.31 L109.60,593.28 L110.45,596.34 L107.80,594.59 L105.15,596.34 L106.00,593.28 L103.52,591.31 L106.69,591.17Z" fill="#9a6ddd"/><path d="M121.08,576.06 L122.19,579.03 L125.36,579.17 L122.88,581.14 L123.73,584.20 L121.08,582.45 L118.43,584.20 L119.28,581.14 L116.80,579.17 L119.97,579.03Z" fill="#9a6ddd"/><path d="M134.36,563.92 L135.47,566.89 L138.64,567.03 L136.16,569.00 L137.01,572.06 L134.36,570.31 L131.71,572.06 L132.56,569.00 L130.08,567.03 L133.25,566.89Z" fill="#9a6ddd"/><path d="M147.64,551.78 L148.75,554.75 L151.92,554.89 L149.44,556.86 L150.29,559.92 L147.64,558.17 L144.99,559.92 L145.84,556.86 L143.36,554.89 L146.53,554.75Z" fill="#9a6ddd"/><path d="M160.92,539.64 L162.03,542.61 L165.20,542.75 L162.72,544.72 L163.57,547.78 L160.92,546.03 L158.27,547.78 L159.12,544.72 L156.64,542.75 L159.81,542.61Z" fill="#9a6ddd"/><path d="M174.20,527.50 L175.31,530.47 L178.48,530.61 L176.00,532.58 L176.85,535.64 L174.20,533.89 L171.55,535.64 L172.40,532.58 L169.92,530.61 L173.09,530.47Z" fill="#9a6ddd"/><path d="M187.48,515.36 L188.59,518.33 L191.76,518.47 L189.28,520.44 L190.13,523.50 L187.48,521.75 L184.83,523.50 L185.68,520.44 L183.20,518.47 L186.37,518.33Z" fill="#9a6ddd"/><path d="M200.76,503.22 L201.87,506.19 L205.04,506.33 L202.56,508.30 L203.41,511.36 L200.76,509.61 L198.11,511.36 L198.96,508.30 L196.48,506.33 L199.65,506.19Z" fill="#9a6ddd"/><path d="M214.04,491.08 L215.15,494.05 L218.32,494.19 L215.84,496.16 L216.69,499.22 L214.04,497.47 L211.39,499.22 L212.24,496.16 L209.76,494.19 L212.93,494.05Z" fill="#9a6ddd"/><path d="M227.32,478.94 L228.43,481.91 L231.60,482.05 L229.12,484.02 L229.97,487.08 L227.32,485.33 L224.67,487.08 L225.52,484.02 L223.04,482.05 L226.21,481.91Z" fill="#9a6ddd"/><path d="M240.60,466.80 L241.71,469.77 L244.88,469.91 L242.40,471.88 L243.25,474.94 L240.60,473.19 L237.95,474.94 L238.80,471.88 L236.32,469.91 L239.49,469.77Z" fill="#9a6ddd"/><path d="M253.88,454.66 L254.99,457.63 L258.16,457.77 L255.68,459.74 L256.53,462.80 L253.88,461.05 L251.23,462.80 L252.08,459.74 L249.60,457.77 L252.77,457.63Z" fill="#9a6ddd"/><path d="M267.16,442.52 L268.27,445.49 L271.44,445.63 L268.96,447.60 L269.81,450.66 L267.16,448.91 L264.51,450.66 L265.36,447.60 L262.88,445.63 L266.05,445.49Z" fill="#9a6ddd"/><path d="M280.44,430.38 L281.55,433.35 L284.72,433.49 L282.24,435.46 L283.09,438.52 L280.44,436.77 L277.79,438.52 L278.64,435.46 L276.16,433.49 L279.33,433.35Z" fill="#9a6ddd"/><path d="M293.72,418.24 L294.83,421.21 L298.00,421.35 L295.52,423.32 L296.37,426.38 L293.72,424.63 L291.07,426.38 L291.92,423.32 L289.44,421.35 L292.61,421.21Z" fill="#9a6ddd"/><path d="M307.00,406.10 L308.11,409.07 L311.28,409.21 L308.80,411.18 L309.65,414.24 L307.00,412.49 L304.35,414.24 L305.20,411.18 L302.72,409.21 L305.89,409.07Z" fill="#9a6ddd"/><path d="M320.28,393.96 L321.39,396.93 L324.56,397.07 L322.08,399.04 L322.93,402.10 L320.28,400.35 L317.63,402.10 L318.48,399.04 L316.00,397.07 L319.17,396.93Z" fill="#9a6ddd"/><path d="M333.56,382.90 L334.67,385.87 L337.84,386.01 L335.36,387.98 L336.21,391.04 L333.56,389.29 L330.91,391.04 L331.76,387.98 L329.28,386.01 L332.45,385.87Z" fill="#9a6ddd"/><path d="M346.84,372.10 L347.95,375.07 L351.12,375.21 L348.64,377.18 L349.49,380.24 L346.84,378.49 L344.19,380.24 L345.04,377.18 L342.56,375.21 L345.73,375.07Z" fill="#9a6ddd"/><path d="M360.12,362.50 L361.23,365.47 L364.40,365.61 L361.92,367.58 L362.77,370.64 L360.12,368.89 L357.47,370.64 L358.32,367.58 L355.84,365.61 L359.01,365.47Z" fill="#9a6ddd"/><path d="M373.40,354.10 L374.51,357.07 L377.68,357.21 L375.20,359.18 L376.05,362.24 L373.40,360.49 L370.75,362.24 L371.60,359.18 L369.12,357.21 L372.29,357.07Z" fill="#9a6ddd"/><path d="M386.68,346.30 L387.79,349.27 L390.96,349.41 L388.48,351.38 L389.33,354.44 L386.68,352.69 L384.03,354.44 L384.88,351.38 L382.40,349.41 L385.57,349.27Z" fill="#9a6ddd"/><path d="M399.96,340.20 L401.07,343.17 L404.24,343.31 L401.76,345.28 L402.61,348.34 L399.96,346.59 L397.31,348.34 L398.16,345.28 L395.68,343.31 L398.85,343.17Z" fill="#9a6ddd"/><path d="M413.24,337.50 L414.35,340.47 L417.52,340.61 L415.04,342.58 L415.89,345.64 L413.24,343.89 L410.59,345.64 L411.44,342.58 L408.96,340.61 L412.13,340.47Z" fill="#9a6ddd"/><path d="M426.52,339.30 L427.63,342.27 L430.80,342.41 L428.32,344.38 L429.17,347.44 L426.52,345.69 L423.87,347.44 L424.72,344.38 L422.24,342.41 L425.41,342.27Z" fill="#9a6ddd"/><path d="M439.80,349.50 L440.91,352.47 L444.08,352.61 L441.60,354.58 L442.45,357.64 L439.80,355.89 L437.15,357.64 L438.00,354.58 L435.52,352.61 L438.69,352.47Z" fill="#9a6ddd"/><path d="M453.08,375.50 L454.19,378.47 L457.36,378.61 L454.88,380.58 L455.73,383.64 L453.08,381.89 L450.43,383.64 L451.28,380.58 L448.80,378.61 L451.97,378.47Z" fill="#9a6ddd"/><path d="M466.36,436.50 L467.47,439.47 L470.64,439.61 L468.16,441.58 L469.01,444.64 L466.36,442.89 L463.71,444.64 L464.56,441.58 L462.08,439.61 L465.25,439.47Z" fill="#9a6ddd"/><path d="M479.64,586.20 L480.75,589.17 L483.92,589.31 L481.44,591.28 L482.29,594.34 L479.64,592.59 L476.99,594.34 L477.84,591.28 L475.36,589.31 L478.53,589.17Z" fill="#9a6ddd"/><path d="M492.92,596.00 L494.03,598.97 L497.20,599.11 L494.72,601.08 L495.57,604.14 L492.92,602.39 L490.27,604.14 L491.12,601.08 L488.64,599.11 L491.81,598.97Z" fill="#9a6ddd"/><path d="M506.20,597.50 L507.31,600.47 L510.48,600.61 L508.00,602.58 L508.85,605.64 L506.20,603.89 L503.55,605.64 L504.40,602.58 L501.92,600.61 L505.09,600.47Z" fill="#9a6ddd"/><path d="M519.48,597.50 L520.59,600.47 L523.76,600.61 L521.28,602.58 L522.13,605.64 L519.48,603.89 L516.83,605.64 L517.68,602.58 L515.20,600.61 L518.37,600.47Z" fill="#9a6ddd"/><path d="M532.76,597.50 L533.87,600.47 L537.04,600.61 L534.56,602.58 L535.41,605.64 L532.76,603.89 L530.11,605.64 L530.96,602.58 L528.48,600.61 L531.65,600.47Z" fill="#9a6ddd"/><path d="M546.04,597.50 L547.15,600.47 L550.32,600.61 L547.84,602.58 L548.69,605.64 L546.04,603.89 L543.39,605.64 L544.24,602.58 L541.76,600.61 L544.93,600.47Z" fill="#9a6ddd"/><path d="M559.32,597.50 L560.43,600.47 L563.60,600.61 L561.12,602.58 L561.97,605.64 L559.32,603.89 L556.67,605.64 L557.52,602.58 L555.04,600.61 L558.21,600.47Z" fill="#9a6ddd"/><path d="M572.60,597.50 L573.71,600.47 L576.88,600.61 L574.40,602.58 L575.25,605.64 L572.60,603.89 L569.95,605.64 L570.80,602.58 L568.32,600.61 L571.49,600.47Z" fill="#9a6ddd"/><path d="M585.88,597.50 L586.99,600.47 L590.16,600.61 L587.68,602.58 L588.53,605.64 L585.88,603.89 L583.23,605.64 L584.08,602.58 L581.60,600.61 L584.77,600.47Z" fill="#9a6ddd"/><path d="M599.16,597.50 L600.27,600.47 L603.44,600.61 L600.96,602.58 L601.81,605.64 L599.16,603.89 L596.51,605.64 L597.36,602.58 L594.88,600.61 L598.05,600.47Z" fill="#9a6ddd"/><path d="M612.44,597.50 L613.55,600.47 L616.72,600.61 L614.24,602.58 L615.09,605.64 L612.44,603.89 L609.79,605.64 L610.64,602.58 L608.16,600.61 L611.33,600.47Z" fill="#9a6ddd"/><path d="M625.72,597.50 L626.83,600.47 L630.00,600.61 L627.52,602.58 L628.37,605.64 L625.72,603.89 L623.07,605.64 L623.92,602.58 L621.44,600.61 L624.61,600.47Z" fill="#9a6ddd"/><path d="M639.00,597.50 L640.11,600.47 L643.28,600.61 L640.80,602.58 L641.65,605.64 L639.00,603.89 L636.35,605.64 L637.20,602.58 L634.72,600.61 L637.89,600.47Z" fill="#9a6ddd"/><path d="M652.28,597.50 L653.39,600.47 L656.56,600.61 L654.08,602.58 L654.93,605.64 L652.28,603.89 L649.63,605.64 L650.48,602.58 L648.00,600.61 L651.17,600.47Z" fill="#9a6ddd"/><path d="M665.56,597.50 L666.67,600.47 L669.84,600.61 L667.36,602.58 L668.21,605.64 L665.56,603.89 L662.91,605.64 L663.76,602.58 L661.28,600.61 L664.45,600.47Z" fill="#9a6ddd"/><path d="M678.84,597.50 L679.95,600.47 L683.12,600.61 L680.64,602.58 L681.49,605.64 L678.84,603.89 L676.19,605.64 L677.04,602.58 L674.56,600.61 L677.73,600.47Z" fill="#9a6ddd"/><path d="M692.12,597.50 L693.23,600.47 L696.40,600.61 L693.92,602.58 L694.77,605.64 L692.12,603.89 L689.47,605.64 L690.32,602.58 L687.84,600.61 L691.01,600.47Z" fill="#9a6ddd"/><path d="M705.40,597.50 L706.51,600.47 L709.68,600.61 L707.20,602.58 L708.05,605.64 L705.40,603.89 L702.75,605.64 L703.60,602.58 L701.12,600.61 L704.29,600.47Z" fill="#9a6ddd"/><path d="M718.68,597.50 L719.79,600.47 L722.96,600.61 L720.48,602.58 L721.33,605.64 L718.68,603.89 L716.03,605.64 L716.88,602.58 L714.40,600.61 L717.57,600.47Z" fill="#9a6ddd"/><path d="M731.96,597.50 L733.07,600.47 L736.24,600.61 L733.76,602.58 L734.61,605.64 L731.96,603.89 L729.31,605.64 L730.16,602.58 L727.68,600.61 L730.85,600.47Z" fill="#9a6ddd"/><path d="M745.24,597.50 L746.35,600.47 L749.52,600.61 L747.04,602.58 L747.89,605.64 L745.24,603.89 L742.59,605.64 L743.44,602.58 L740.96,600.61 L744.13,600.47Z" fill="#9a6ddd"/><path d="M758.52,597.50 L759.63,600.47 L762.80,600.61 L760.32,602.58 L761.17,605.64 L758.52,603.89 L755.87,605.64 L756.72,602.58 L754.24,600.61 L757.41,600.47Z" fill="#9a6ddd"/><path d="M105.00,599.00C105.93,597.83 106.87,596.46 107.80,595.50C112.23,590.96 116.65,588.39 121.08,584.84C125.51,581.29 129.93,577.73 134.36,574.18C138.79,570.63 143.21,567.07 147.64,563.52C152.07,559.97 156.49,556.41 160.92,552.86C165.35,549.31 169.77,545.75 174.20,542.20C178.63,538.65 183.05,535.09 187.48,531.54C191.91,527.99 196.33,524.43 200.76,520.88C205.19,517.33 209.61,513.77 214.04,510.22C218.47,506.67 222.89,503.11 227.32,499.56C231.75,496.01 236.17,492.45 240.60,488.90C245.03,485.35 249.45,481.79 253.88,478.24C258.31,474.69 262.73,471.13 267.16,467.58C271.59,464.03 276.01,460.47 280.44,456.92C284.87,453.37 289.29,449.81 293.72,446.26C298.15,442.71 302.57,439.15 307.00,435.60C311.43,432.05 315.85,428.49 320.28,424.94C324.71,421.39 329.13,417.77 333.56,414.28C337.99,410.79 342.41,407.38 346.84,404.00C351.27,400.62 355.69,397.33 360.12,394.00C364.55,390.67 368.97,387.16 373.40,384.00C377.83,380.84 382.25,378.03 386.68,375.00C391.11,371.97 395.53,366.80 399.96,365.80C404.39,364.80 408.81,364.00 413.24,364.00C417.67,364.00 422.09,364.92 426.52,366.00C430.95,367.08 435.37,370.42 439.80,374.50C444.23,378.58 448.65,387.88 453.08,396.40C457.51,404.92 461.93,415.86 466.36,427.10C470.79,438.34 475.21,451.79 479.64,464.50C484.07,477.21 488.49,488.21 492.92,503.40C497.35,518.59 501.77,544.65 506.20,558.40C510.63,572.15 515.05,587.41 519.48,591.40C523.91,595.39 528.33,597.61 532.76,598.70C537.19,599.79 541.61,600.80 546.04,600.80C550.47,600.80 554.89,600.80 559.32,600.80C563.75,600.80 568.17,600.80 572.60,600.80C577.03,600.80 581.45,600.80 585.88,600.80C590.31,600.80 594.73,600.80 599.16,600.80C603.59,600.80 608.01,600.80 612.44,600.80C616.87,600.80 621.29,600.80 625.72,600.80C630.15,600.80 634.57,600.80 639.00,600.80C643.43,600.80 647.85,600.80 652.28,600.80C656.71,600.80 661.13,600.80 665.56,600.80C669.99,600.80 674.41,600.80 678.84,600.80C683.27,600.80 687.69,600.80 692.12,600.80C696.55,600.80 700.97,600.80 705.40,600.80C709.83,600.80 714.25,600.80 718.68,600.80C723.11,600.80 727.53,600.80 731.96,600.80C736.39,600.80 740.81,600.80 745.24,600.80C749.67,600.80 754.09,600.80 758.52,600.80C761.51,600.80 764.51,600.80 767.50,600.80" stroke="#c9a227" stroke-width="1.7" fill="none" stroke-linejoin="round"/><path d="M107.80,590.75L107.80,600.25M104.44,592.14L111.16,598.86M111.16,592.14L104.44,598.86M103.05,595.50L112.55,595.50" stroke="#dcb850" stroke-width="1.1" fill="none"/><path d="M121.08,580.09L121.08,589.59M117.72,581.48L124.44,588.20M124.44,581.48L117.72,588.20M116.33,584.84L125.83,584.84" stroke="#dcb850" stroke-width="1.1" fill="none"/><path d="M134.36,569.43L134.36,578.93M131.00,570.82L137.72,577.54M137.72,570.82L131.00,577.54M129.61,574.18L139.11,574.18" stroke="#dcb850" stroke-width="1.1" fill="none"/><path d="M147.64,558.77L147.64,568.27M144.28,560.16L151.00,566.88M151.00,560.16L144.28,566.88M142.89,563.52L152.39,563.52" stroke="#dcb850" stroke-width="1.1" fill="none"/><path d="M160.92,548.11L160.92,557.61M157.56,549.50L164.28,556.22M164.28,549.50L157.56,556.22M156.17,552.86L165.67,552.86" stroke="#dcb850" stroke-width="1.1" fill="none"/><path d="M174.20,537.45L174.20,546.95M170.84,538.84L177.56,545.56M177.56,538.84L170.84,545.56M169.45,542.20L178.95,542.20" stroke="#dcb850" stroke-width="1.1" fill="none"/><path d="M187.48,526.79L187.48,536.29M184.12,528.18L190.84,534.90M190.84,528.18L184.12,534.90M182.73,531.54L192.23,531.54" stroke="#dcb850" stroke-width="1.1" fill="none"/><path d="M200.76,516.13L200.76,525.63M197.40,517.52L204.12,524.24M204.12,517.52L197.40,524.24M196.01,520.88L205.51,520.88" stroke="#dcb850" stroke-width="1.1" fill="none"/><path d="M214.04,505.47L214.04,514.97M210.68,506.86L217.40,513.58M217.40,506.86L210.68,513.58M209.29,510.22L218.79,510.22" stroke="#dcb850" stroke-width="1.1" fill="none"/><path d="M227.32,494.81L227.32,504.31M223.96,496.20L230.68,502.92M230.68,496.20L223.96,502.92M222.57,499.56L232.07,499.56" stroke="#dcb850" stroke-width="1.1" fill="none"/><path d="M240.60,484.15L240.60,493.65M237.24,485.54L243.96,492.26M243.96,485.54L237.24,492.26M235.85,488.90L245.35,488.90" stroke="#dcb850" stroke-width="1.1" fill="none"/><path d="M253.88,473.49L253.88,482.99M250.52,474.88L257.24,481.60M257.24,474.88L250.52,481.60M249.13,478.24L258.63,478.24" stroke="#dcb850" stroke-width="1.1" fill="none"/><path d="M267.16,462.83L267.16,472.33M263.80,464.22L270.52,470.94M270.52,464.22L263.80,470.94M262.41,467.58L271.91,467.58" stroke="#dcb850" stroke-width="1.1" fill="none"/><path d="M280.44,452.17L280.44,461.67M277.08,453.56L283.80,460.28M283.80,453.56L277.08,460.28M275.69,456.92L285.19,456.92" stroke="#dcb850" stroke-width="1.1" fill="none"/><path d="M293.72,441.51L293.72,451.01M290.36,442.90L297.08,449.62M297.08,442.90L290.36,449.62M288.97,446.26L298.47,446.26" stroke="#dcb850" stroke-width="1.1" fill="none"/><path d="M307.00,430.85L307.00,440.35M303.64,432.24L310.36,438.96M310.36,432.24L303.64,438.96M302.25,435.60L311.75,435.60" stroke="#dcb850" stroke-width="1.1" fill="none"/><path d="M320.28,420.19L320.28,429.69M316.92,421.58L323.64,428.30M323.64,421.58L316.92,428.30M315.53,424.94L325.03,424.94" stroke="#dcb850" stroke-width="1.1" fill="none"/><path d="M333.56,409.53L333.56,419.03M330.20,410.92L336.92,417.64M336.92,410.92L330.20,417.64M328.81,414.28L338.31,414.28" stroke="#dcb850" stroke-width="1.1" fill="none"/><path d="M346.84,399.25L346.84,408.75M343.48,400.64L350.20,407.36M350.20,400.64L343.48,407.36M342.09,404.00L351.59,404.00" stroke="#dcb850" stroke-width="1.1" fill="none"/><path d="M360.12,389.25L360.12,398.75M356.76,390.64L363.48,397.36M363.48,390.64L356.76,397.36M355.37,394.00L364.87,394.00" stroke="#dcb850" stroke-width="1.1" fill="none"/><path d="M373.40,379.25L373.40,388.75M370.04,380.64L376.76,387.36M376.76,380.64L370.04,387.36M368.65,384.00L378.15,384.00" stroke="#dcb850" stroke-width="1.1" fill="none"/><path d="M386.68,370.25L386.68,379.75M383.32,371.64L390.04,378.36M390.04,371.64L383.32,378.36M381.93,375.00L391.43,375.00" stroke="#dcb850" stroke-width="1.1" fill="none"/><path d="M399.96,361.05L399.96,370.55M396.60,362.44L403.32,369.16M403.32,362.44L396.60,369.16M395.21,365.80L404.71,365.80" stroke="#dcb850" stroke-width="1.1" fill="none"/><path d="M413.24,359.25L413.24,368.75M409.88,360.64L416.60,367.36M416.60,360.64L409.88,367.36M408.49,364.00L417.99,364.00" stroke="#dcb850" stroke-width="1.1" fill="none"/><path d="M426.52,361.25L426.52,370.75M423.16,362.64L429.88,369.36M429.88,362.64L423.16,369.36M421.77,366.00L431.27,366.00" stroke="#dcb850" stroke-width="1.1" fill="none"/><path d="M439.80,369.75L439.80,379.25M436.44,371.14L443.16,377.86M443.16,371.14L436.44,377.86M435.05,374.50L444.55,374.50" stroke="#dcb850" stroke-width="1.1" fill="none"/><path d="M453.08,391.65L453.08,401.15M449.72,393.04L456.44,399.76M456.44,393.04L449.72,399.76M448.33,396.40L457.83,396.40" stroke="#dcb850" stroke-width="1.1" fill="none"/><path d="M466.36,422.35L466.36,431.85M463.00,423.74L469.72,430.46M469.72,423.74L463.00,430.46M461.61,427.10L471.11,427.10" stroke="#dcb850" stroke-width="1.1" fill="none"/><path d="M479.64,459.75L479.64,469.25M476.28,461.14L483.00,467.86M483.00,461.14L476.28,467.86M474.89,464.50L484.39,464.50" stroke="#dcb850" stroke-width="1.1" fill="none"/><path d="M492.92,498.65L492.92,508.15M489.56,500.04L496.28,506.76M496.28,500.04L489.56,506.76M488.17,503.40L497.67,503.40" stroke="#dcb850" stroke-width="1.1" fill="none"/><path d="M506.20,553.65L506.20,563.15M502.84,555.04L509.56,561.76M509.56,555.04L502.84,561.76M501.45,558.40L510.95,558.40" stroke="#dcb850" stroke-width="1.1" fill="none"/><path d="M519.48,586.65L519.48,596.15M516.12,588.04L522.84,594.76M522.84,588.04L516.12,594.76M514.73,591.40L524.23,591.40" stroke="#dcb850" stroke-width="1.1" fill="none"/><path d="M532.76,593.95L532.76,603.45M529.40,595.34L536.12,602.06M536.12,595.34L529.40,602.06M528.01,598.70L537.51,598.70" stroke="#dcb850" stroke-width="1.1" fill="none"/><path d="M546.04,596.05L546.04,605.55M542.68,597.44L549.40,604.16M549.40,597.44L542.68,604.16M541.29,600.80L550.79,600.80" stroke="#dcb850" stroke-width="1.1" fill="none"/><path d="M559.32,596.05L559.32,605.55M555.96,597.44L562.68,604.16M562.68,597.44L555.96,604.16M554.57,600.80L564.07,600.80" stroke="#dcb850" stroke-width="1.1" fill="none"/><path d="M572.60,596.05L572.60,605.55M569.24,597.44L575.96,604.16M575.96,597.44L569.24,604.16M567.85,600.80L577.35,600.80" stroke="#dcb850" stroke-width="1.1" fill="none"/><path d="M585.88,596.05L585.88,605.55M582.52,597.44L589.24,604.16M589.24,597.44L582.52,604.16M581.13,600.80L590.63,600.80" stroke="#dcb850" stroke-width="1.1" fill="none"/><path d="M599.16,596.05L599.16,605.55M595.80,597.44L602.52,604.16M602.52,597.44L595.80,604.16M594.41,600.80L603.91,600.80" stroke="#dcb850" stroke-width="1.1" fill="none"/><path d="M612.44,596.05L612.44,605.55M609.08,597.44L615.80,604.16M615.80,597.44L609.08,604.16M607.69,600.80L617.19,600.80" stroke="#dcb850" stroke-width="1.1" fill="none"/><path d="M625.72,596.05L625.72,605.55M622.36,597.44L629.08,604.16M629.08,597.44L622.36,604.16M620.97,600.80L630.47,600.80" stroke="#dcb850" stroke-width="1.1" fill="none"/><path d="M639.00,596.05L639.00,605.55M635.64,597.44L642.36,604.16M642.36,597.44L635.64,604.16M634.25,600.80L643.75,600.80" stroke="#dcb850" stroke-width="1.1" fill="none"/><path d="M652.28,596.05L652.28,605.55M648.92,597.44L655.64,604.16M655.64,597.44L648.92,604.16M647.53,600.80L657.03,600.80" stroke="#dcb850" stroke-width="1.1" fill="none"/><path d="M665.56,596.05L665.56,605.55M662.20,597.44L668.92,604.16M668.92,597.44L662.20,604.16M660.81,600.80L670.31,600.80" stroke="#dcb850" stroke-width="1.1" fill="none"/><path d="M678.84,596.05L678.84,605.55M675.48,597.44L682.20,604.16M682.20,597.44L675.48,604.16M674.09,600.80L683.59,600.80" stroke="#dcb850" stroke-width="1.1" fill="none"/><path d="M692.12,596.05L692.12,605.55M688.76,597.44L695.48,604.16M695.48,597.44L688.76,604.16M687.37,600.80L696.87,600.80" stroke="#dcb850" stroke-width="1.1" fill="none"/><path d="M705.40,596.05L705.40,605.55M702.04,597.44L708.76,604.16M708.76,597.44L702.04,604.16M700.65,600.80L710.15,600.80" stroke="#dcb850" stroke-width="1.1" fill="none"/><path d="M718.68,596.05L718.68,605.55M715.32,597.44L722.04,604.16M722.04,597.44L715.32,604.16M713.93,600.80L723.43,600.80" stroke="#dcb850" stroke-width="1.1" fill="none"/><path d="M731.96,596.05L731.96,605.55M728.60,597.44L735.32,604.16M735.32,597.44L728.60,604.16M727.21,600.80L736.71,600.80" stroke="#dcb850" stroke-width="1.1" fill="none"/><path d="M745.24,596.05L745.24,605.55M741.88,597.44L748.60,604.16M748.60,597.44L741.88,604.16M740.49,600.80L749.99,600.80" stroke="#dcb850" stroke-width="1.1" fill="none"/><path d="M758.52,596.05L758.52,605.55M755.16,597.44L761.88,604.16M761.88,597.44L755.16,604.16M753.77,600.80L763.27,600.80" stroke="#dcb850" stroke-width="1.1" fill="none"/><path d="M105.00,599.00C105.93,598.77 106.87,598.62 107.80,598.30C112.23,596.79 116.65,591.19 121.08,587.64C125.51,584.09 129.93,580.53 134.36,576.98C138.79,573.43 143.21,569.87 147.64,566.32C152.07,562.77 156.49,559.21 160.92,555.66C165.35,552.11 169.77,548.55 174.20,545.00C178.63,541.45 183.05,537.89 187.48,534.34C191.91,530.79 196.33,527.23 200.76,523.68C205.19,520.13 209.61,516.57 214.04,513.02C218.47,509.47 222.89,505.91 227.32,502.36C231.75,498.81 236.17,495.25 240.60,491.70C245.03,488.15 249.45,484.59 253.88,481.04C258.31,477.49 262.73,473.93 267.16,470.38C271.59,466.83 276.01,463.27 280.44,459.72C284.87,456.17 289.29,452.61 293.72,449.06C298.15,445.51 302.57,441.95 307.00,438.40C311.43,434.85 315.85,431.29 320.28,427.74C324.71,424.19 329.13,420.46 333.56,417.08C337.99,413.70 342.41,410.68 346.84,407.40C351.27,404.12 355.69,400.78 360.12,397.40C364.55,394.02 368.97,390.43 373.40,387.10C377.83,383.77 382.25,380.65 386.68,377.40C391.11,374.15 395.53,370.30 399.96,367.60C404.39,364.90 408.81,361.61 413.24,360.70C417.67,359.79 422.09,359.00 426.52,359.00C430.95,359.00 435.37,362.67 439.80,366.00C444.23,369.33 448.65,376.61 453.08,383.40C457.51,390.19 461.93,398.51 466.36,408.00C470.79,417.49 475.21,429.96 479.64,441.80C484.07,453.64 488.49,466.27 492.92,479.20C497.35,492.13 501.77,505.71 506.20,519.50C510.63,533.29 515.05,548.66 519.48,562.00C523.91,575.34 528.33,598.90 532.76,599.80C537.19,600.70 541.61,601.20 546.04,601.20C550.47,601.20 554.89,601.20 559.32,601.20C563.75,601.20 568.17,601.20 572.60,601.20C577.03,601.20 581.45,601.20 585.88,601.20C590.31,601.20 594.73,601.20 599.16,601.20C603.59,601.20 608.01,601.20 612.44,601.20C616.87,601.20 621.29,601.20 625.72,601.20C630.15,601.20 634.57,601.20 639.00,601.20C643.43,601.20 647.85,601.20 652.28,601.20C656.71,601.20 661.13,601.20 665.56,601.20C669.99,601.20 674.41,601.20 678.84,601.20C683.27,601.20 687.69,601.20 692.12,601.20C696.55,601.20 700.97,601.20 705.40,601.20C709.83,601.20 714.25,601.20 718.68,601.20C723.11,601.20 727.53,601.20 731.96,601.20C736.39,601.20 740.81,601.20 745.24,601.20C749.67,601.20 754.09,601.20 758.52,601.20C761.51,601.20 764.51,601.20 767.50,601.20" stroke="#5fc6c6" stroke-width="1.7" fill="none" stroke-linejoin="round"/><path d="M107.80,594.16 L112.17,597.34 L110.50,602.48 L105.10,602.48 L103.43,597.34Z" fill="#6cc9c9"/><path d="M121.08,583.50 L125.45,586.68 L123.78,591.82 L118.38,591.82 L116.71,586.68Z" fill="#6cc9c9"/><path d="M134.36,572.84 L138.73,576.02 L137.06,581.16 L131.66,581.16 L129.99,576.02Z" fill="#6cc9c9"/><path d="M147.64,562.18 L152.01,565.36 L150.34,570.50 L144.94,570.50 L143.27,565.36Z" fill="#6cc9c9"/><path d="M160.92,551.52 L165.29,554.70 L163.62,559.84 L158.22,559.84 L156.55,554.70Z" fill="#6cc9c9"/><path d="M174.20,540.86 L178.57,544.04 L176.90,549.18 L171.50,549.18 L169.83,544.04Z" fill="#6cc9c9"/><path d="M187.48,530.20 L191.85,533.38 L190.18,538.52 L184.78,538.52 L183.11,533.38Z" fill="#6cc9c9"/><path d="M200.76,519.54 L205.13,522.72 L203.46,527.86 L198.06,527.86 L196.39,522.72Z" fill="#6cc9c9"/><path d="M214.04,508.88 L218.41,512.06 L216.74,517.20 L211.34,517.20 L209.67,512.06Z" fill="#6cc9c9"/><path d="M227.32,498.22 L231.69,501.40 L230.02,506.54 L224.62,506.54 L222.95,501.40Z" fill="#6cc9c9"/><path d="M240.60,487.56 L244.97,490.74 L243.30,495.88 L237.90,495.88 L236.23,490.74Z" fill="#6cc9c9"/><path d="M253.88,476.90 L258.25,480.08 L256.58,485.22 L251.18,485.22 L249.51,480.08Z" fill="#6cc9c9"/><path d="M267.16,466.24 L271.53,469.42 L269.86,474.56 L264.46,474.56 L262.79,469.42Z" fill="#6cc9c9"/><path d="M280.44,455.58 L284.81,458.76 L283.14,463.90 L277.74,463.90 L276.07,458.76Z" fill="#6cc9c9"/><path d="M293.72,444.92 L298.09,448.10 L296.42,453.24 L291.02,453.24 L289.35,448.10Z" fill="#6cc9c9"/><path d="M307.00,434.26 L311.37,437.44 L309.70,442.58 L304.30,442.58 L302.63,437.44Z" fill="#6cc9c9"/><path d="M320.28,423.60 L324.65,426.78 L322.98,431.92 L317.58,431.92 L315.91,426.78Z" fill="#6cc9c9"/><path d="M333.56,412.94 L337.93,416.12 L336.26,421.26 L330.86,421.26 L329.19,416.12Z" fill="#6cc9c9"/><path d="M346.84,403.26 L351.21,406.44 L349.54,411.58 L344.14,411.58 L342.47,406.44Z" fill="#6cc9c9"/><path d="M360.12,393.26 L364.49,396.44 L362.82,401.58 L357.42,401.58 L355.75,396.44Z" fill="#6cc9c9"/><path d="M373.40,382.96 L377.77,386.14 L376.10,391.28 L370.70,391.28 L369.03,386.14Z" fill="#6cc9c9"/><path d="M386.68,373.26 L391.05,376.44 L389.38,381.58 L383.98,381.58 L382.31,376.44Z" fill="#6cc9c9"/><path d="M399.96,363.46 L404.33,366.64 L402.66,371.78 L397.26,371.78 L395.59,366.64Z" fill="#6cc9c9"/><path d="M413.24,356.56 L417.61,359.74 L415.94,364.88 L410.54,364.88 L408.87,359.74Z" fill="#6cc9c9"/><path d="M426.52,354.86 L430.89,358.04 L429.22,363.18 L423.82,363.18 L422.15,358.04Z" fill="#6cc9c9"/><path d="M439.80,361.86 L444.17,365.04 L442.50,370.18 L437.10,370.18 L435.43,365.04Z" fill="#6cc9c9"/><path d="M453.08,379.26 L457.45,382.44 L455.78,387.58 L450.38,387.58 L448.71,382.44Z" fill="#6cc9c9"/><path d="M466.36,403.86 L470.73,407.04 L469.06,412.18 L463.66,412.18 L461.99,407.04Z" fill="#6cc9c9"/><path d="M479.64,437.66 L484.01,440.84 L482.34,445.98 L476.94,445.98 L475.27,440.84Z" fill="#6cc9c9"/><path d="M492.92,475.06 L497.29,478.24 L495.62,483.38 L490.22,483.38 L488.55,478.24Z" fill="#6cc9c9"/><path d="M506.20,515.36 L510.57,518.54 L508.90,523.68 L503.50,523.68 L501.83,518.54Z" fill="#6cc9c9"/><path d="M519.48,557.86 L523.85,561.04 L522.18,566.18 L516.78,566.18 L515.11,561.04Z" fill="#6cc9c9"/><path d="M532.76,595.66 L537.13,598.84 L535.46,603.98 L530.06,603.98 L528.39,598.84Z" fill="#6cc9c9"/><path d="M546.04,597.06 L550.41,600.24 L548.74,605.38 L543.34,605.38 L541.67,600.24Z" fill="#6cc9c9"/><path d="M559.32,597.06 L563.69,600.24 L562.02,605.38 L556.62,605.38 L554.95,600.24Z" fill="#6cc9c9"/><path d="M572.60,597.06 L576.97,600.24 L575.30,605.38 L569.90,605.38 L568.23,600.24Z" fill="#6cc9c9"/><path d="M585.88,597.06 L590.25,600.24 L588.58,605.38 L583.18,605.38 L581.51,600.24Z" fill="#6cc9c9"/><path d="M599.16,597.06 L603.53,600.24 L601.86,605.38 L596.46,605.38 L594.79,600.24Z" fill="#6cc9c9"/><path d="M612.44,597.06 L616.81,600.24 L615.14,605.38 L609.74,605.38 L608.07,600.24Z" fill="#6cc9c9"/><path d="M625.72,597.06 L630.09,600.24 L628.42,605.38 L623.02,605.38 L621.35,600.24Z" fill="#6cc9c9"/><path d="M639.00,597.06 L643.37,600.24 L641.70,605.38 L636.30,605.38 L634.63,600.24Z" fill="#6cc9c9"/><path d="M652.28,597.06 L656.65,600.24 L654.98,605.38 L649.58,605.38 L647.91,600.24Z" fill="#6cc9c9"/><path d="M665.56,597.06 L669.93,600.24 L668.26,605.38 L662.86,605.38 L661.19,600.24Z" fill="#6cc9c9"/><path d="M678.84,597.06 L683.21,600.24 L681.54,605.38 L676.14,605.38 L674.47,600.24Z" fill="#6cc9c9"/><path d="M692.12,597.06 L696.49,600.24 L694.82,605.38 L689.42,605.38 L687.75,600.24Z" fill="#6cc9c9"/><path d="M705.40,597.06 L709.77,600.24 L708.10,605.38 L702.70,605.38 L701.03,600.24Z" fill="#6cc9c9"/><path d="M718.68,597.06 L723.05,600.24 L721.38,605.38 L715.98,605.38 L714.31,600.24Z" fill="#6cc9c9"/><path d="M731.96,597.06 L736.33,600.24 L734.66,605.38 L729.26,605.38 L727.59,600.24Z" fill="#6cc9c9"/><path d="M745.24,597.06 L749.61,600.24 L747.94,605.38 L742.54,605.38 L740.87,600.24Z" fill="#6cc9c9"/><path d="M758.52,597.06 L762.89,600.24 L761.22,605.38 L755.82,605.38 L754.15,600.24Z" fill="#6cc9c9"/><path d="M105.50,597.30C125.32,576.98 179.05,521.62 224.40,475.40C269.75,429.18 341.67,356.52 377.60,320.00C413.53,283.48 405.92,289.87 440.00,256.30C474.08,222.73 556.88,142.57 582.10,118.60C607.32,94.63 583.90,116.82 591.30,112.50C598.70,108.18 619.77,95.20 626.50,92.70C633.23,90.20 629.87,93.28 631.70,97.50C633.53,101.72 635.82,110.58 637.50,118.00C639.18,125.42 640.47,131.67 641.80,142.00C643.13,152.33 644.27,158.30 645.50,180.00C646.73,201.70 647.65,241.45 649.20,272.20C650.75,302.95 653.00,333.73 654.80,364.50C656.60,395.27 658.10,428.62 660.00,456.80C661.90,484.98 664.12,513.07 666.20,533.60C668.28,554.13 670.30,569.85 672.50,580.00C674.70,590.15 676.48,591.72 679.40,594.50C682.32,597.28 675.32,596.33 690.00,596.70C704.68,597.07 754.58,596.70 767.50,596.70" stroke="#d42028" stroke-width="1.9" fill="none" stroke-dasharray="8.5 5.5"/></g><circle cx="105.50" cy="597.30" r="5.40" fill="#c8232c"/><circle cx="591.30" cy="112.50" r="5.40" fill="#c8232c"/><circle cx="626.50" cy="92.70" r="5.40" fill="#c8232c"/><circle cx="679.40" cy="594.50" r="5.40" fill="#c8232c"/><text transform="translate(103.20,571.60) scale(1.0,1.08)" x="0" y="0" font-family="'Liberation Serif', serif" font-size="28" text-anchor="start" fill="#c8232c" font-weight="normal" >A</text><text transform="translate(563.50,106.20) scale(1.0,1.08)" x="0" y="0" font-family="'Liberation Serif', serif" font-size="28" text-anchor="start" fill="#c8232c" font-weight="normal" >B</text><text transform="translate(614.00,74.40) scale(1.0,1.08)" x="0" y="0" font-family="'Liberation Serif', serif" font-size="28.5" text-anchor="start" fill="#c8232c" font-weight="normal" >C</text><text transform="translate(685.80,585.00) scale(1.0,1.08)" x="0" y="0" font-family="'Liberation Serif', serif" font-size="28" text-anchor="start" fill="#c8232c" font-weight="normal" >D</text><path d="M688.0,41.6H739.0" stroke="#3f3f3f" stroke-width="1.7"/><rect x="709.76" y="38.06" width="7.07" height="7.07" fill="#484848"/><text transform="translate(744.00,49.20) scale(1.0,1.06)" x="0" y="0" font-family="'Liberation Serif', serif" font-size="22.5" text-anchor="start" fill="#000" font-weight="normal" >α=0°</text><path d="M688.0,71.5H739.0" stroke="#dc3a3a" stroke-width="1.7"/><circle cx="713.30" cy="71.50" r="3.95" fill="#d63a3f"/><text transform="translate(744.00,79.10) scale(1.0,1.06)" x="0" y="0" font-family="'Liberation Serif', serif" font-size="22.5" text-anchor="start" fill="#000" font-weight="normal" >α=15°</text><path d="M688.0,101.4H739.0" stroke="#3a6ee0" stroke-width="1.7"/><path d="M713.30,96.59L717.67,104.89L708.93,104.89Z" fill="#3a6ee0"/><text transform="translate(744.00,109.00) scale(1.0,1.06)" x="0" y="0" font-family="'Liberation Serif', serif" font-size="22.5" text-anchor="start" fill="#000" font-weight="normal" >α=30°</text><path d="M688.0,131.4H739.0" stroke="#55a660" stroke-width="1.7"/><circle cx="713.30" cy="131.40" r="4.26" fill="url(#sph)"/><text transform="translate(744.00,139.00) scale(1.0,1.06)" x="0" y="0" font-family="'Liberation Serif', serif" font-size="22.5" text-anchor="start" fill="#000" font-weight="normal" >α=45°</text><path d="M688.0,161.4H739.0" stroke="#9a6ddd" stroke-width="1.7"/><path d="M713.30,156.72 L714.46,159.81 L717.75,159.95 L715.17,162.01 L716.05,165.19 L713.30,163.37 L710.55,165.19 L711.43,162.01 L708.85,159.95 L712.14,159.81Z" fill="#9a6ddd"/><text transform="translate(744.00,169.00) scale(1.0,1.06)" x="0" y="0" font-family="'Liberation Serif', serif" font-size="22.5" text-anchor="start" fill="#000" font-weight="normal" >α=60°</text><path d="M688.0,191.4H739.0" stroke="#c9a227" stroke-width="1.7"/><path d="M713.30,186.46L713.30,196.34M709.81,187.91L716.79,194.89M716.79,187.91L709.81,194.89M708.36,191.40L718.24,191.40" stroke="#dcb850" stroke-width="1.1" fill="none"/><text transform="translate(744.00,199.00) scale(1.0,1.06)" x="0" y="0" font-family="'Liberation Serif', serif" font-size="22.5" text-anchor="start" fill="#000" font-weight="normal" >α=75°</text><path d="M688.0,221.4H739.0" stroke="#5fc6c6" stroke-width="1.7"/><path d="M713.30,217.09 L717.85,220.40 L716.11,225.75 L710.49,225.75 L708.75,220.40Z" fill="#6cc9c9"/><text transform="translate(744.00,229.00) scale(1.0,1.06)" x="0" y="0" font-family="'Liberation Serif', serif" font-size="22.5" text-anchor="start" fill="#000" font-weight="normal" >α=90°</text><path d="M688.0,247.9H739.0" stroke="#d42028" stroke-width="2" stroke-dasharray="8 5.5"/><text transform="translate(744.00,255.70) scale(1.0,1.07)" x="0" y="0" font-family="'Liberation Serif', serif" font-size="22" text-anchor="start" fill="#000" font-weight="normal" >Complete Sample</text><text transform="translate(0.30,747.90) scale(1.0,1.06)" x="0" y="0" font-family="'Liberation Sans', sans-serif" font-size="41.5" text-anchor="start" fill="#000" font-weight="bold" >B</text><path d="M96.5,1343.1H823.2M107.5,763.1V1354.1M191.70,1343.1v10.8M275.90,1343.1v10.8M360.10,1343.1v10.8M444.30,1343.1v10.8M528.50,1343.1v10.8M612.70,1343.1v10.8M696.90,1343.1v10.8M781.10,1343.1v10.8M149.60,1343.1v5.5M233.80,1343.1v5.5M318.00,1343.1v5.5M402.20,1343.1v5.5M486.40,1343.1v5.5M570.60,1343.1v5.5M654.80,1343.1v5.5M739.00,1343.1v5.5M823.20,1343.1v5.5M107.5,1285.10h-11M107.5,1227.10h-11M107.5,1169.10h-11M107.5,1111.10h-11M107.5,1053.10h-11M107.5,995.10h-11M107.5,937.10h-11M107.5,879.10h-11M107.5,821.10h-11M107.5,763.10h-11M107.5,1314.10h-5.5M107.5,1256.10h-5.5M107.5,1198.10h-5.5M107.5,1140.10h-5.5M107.5,1082.10h-5.5M107.5,1024.10h-5.5M107.5,966.10h-5.5M107.5,908.10h-5.5M107.5,850.10h-5.5M107.5,792.10h-5.5" stroke="#000" stroke-width="2.2" fill="none"/><text transform="translate(107.50,1379.00) scale(0.9,1.0)" x="0" y="0" font-family="'Liberation Serif', serif" font-size="23.5" text-anchor="middle" fill="#000" font-weight="normal" >0.0</text><text transform="translate(191.70,1379.00) scale(0.9,1.0)" x="0" y="0" font-family="'Liberation Serif', serif" font-size="23.5" text-anchor="middle" fill="#000" font-weight="normal" >0.2</text><text transform="translate(275.90,1379.00) scale(0.9,1.0)" x="0" y="0" font-family="'Liberation Serif', serif" font-size="23.5" text-anchor="middle" fill="#000" font-weight="normal" >0.4</text><text transform="translate(360.10,1379.00) scale(0.9,1.0)" x="0" y="0" font-family="'Liberation Serif', serif" font-size="23.5" text-anchor="middle" fill="#000" font-weight="normal" >0.6</text><text transform="translate(444.30,1379.00) scale(0.9,1.0)" x="0" y="0" font-family="'Liberation Serif', serif" font-size="23.5" text-anchor="middle" fill="#000" font-weight="normal" >0.8</text><text transform="translate(528.50,1379.00) scale(0.9,1.0)" x="0" y="0" font-family="'Liberation Serif', serif" font-size="23.5" text-anchor="middle" fill="#000" font-weight="normal" >1.0</text><text transform="translate(612.70,1379.00) scale(0.9,1.0)" x="0" y="0" font-family="'Liberation Serif', serif" font-size="23.5" text-anchor="middle" fill="#000" font-weight="normal" >1.2</text><text transform="translate(696.90,1379.00) scale(0.9,1.0)" x="0" y="0" font-family="'Liberation Serif', serif" font-size="23.5" text-anchor="middle" fill="#000" font-weight="normal" >1.4</text><text transform="translate(781.10,1379.00) scale(0.9,1.0)" x="0" y="0" font-family="'Liberation Serif', serif" font-size="23.5" text-anchor="middle" fill="#000" font-weight="normal" >1.6</text><text transform="translate(88.20,1350.60) scale(0.97,1.05)" x="0" y="0" font-family="'Liberation Serif', serif" font-size="23.5" text-anchor="end" fill="#000" font-weight="normal" >0</text><text transform="translate(88.20,1292.60) scale(0.97,1.05)" x="0" y="0" font-family="'Liberation Serif', serif" font-size="23.5" text-anchor="end" fill="#000" font-weight="normal" >2</text><text transform="translate(88.20,1234.60) scale(0.97,1.05)" x="0" y="0" font-family="'Liberation Serif', serif" font-size="23.5" text-anchor="end" fill="#000" font-weight="normal" >4</text><text transform="translate(88.20,1176.60) scale(0.97,1.05)" x="0" y="0" font-family="'Liberation Serif', serif" font-size="23.5" text-anchor="end" fill="#000" font-weight="normal" >6</text><text transform="translate(88.20,1118.60) scale(0.97,1.05)" x="0" y="0" font-family="'Liberation Serif', serif" font-size="23.5" text-anchor="end" fill="#000" font-weight="normal" >8</text><text transform="translate(88.20,1060.60) scale(0.97,1.05)" x="0" y="0" font-family="'Liberation Serif', serif" font-size="23.5" text-anchor="end" fill="#000" font-weight="normal" >10</text><text transform="translate(88.20,1002.60) scale(0.97,1.05)" x="0" y="0" font-family="'Liberation Serif', serif" font-size="23.5" text-anchor="end" fill="#000" font-weight="normal" >12</text><text transform="translate(88.20,944.60) scale(0.97,1.05)" x="0" y="0" font-family="'Liberation Serif', serif" font-size="23.5" text-anchor="end" fill="#000" font-weight="normal" >14</text><text transform="translate(88.20,886.60) scale(0.97,1.05)" x="0" y="0" font-family="'Liberation Serif', serif" font-size="23.5" text-anchor="end" fill="#000" font-weight="normal" >16</text><text transform="translate(88.20,828.60) scale(0.97,1.05)" x="0" y="0" font-family="'Liberation Serif', serif" font-size="23.5" text-anchor="end" fill="#000" font-weight="normal" >18</text><text transform="translate(88.20,770.60) scale(0.97,1.05)" x="0" y="0" font-family="'Liberation Serif', serif" font-size="23.5" text-anchor="end" fill="#000" font-weight="normal" >20</text><text x="0.00" y="0.00" font-family="'Liberation Serif', serif" font-size="24.6" text-anchor="middle" fill="#000" font-weight="normal" transform="translate(55.0,1053) rotate(-90) scale(1,1.03)">Stress (MPa)</text><text transform="translate(465,1422.5) scale(1,1.05)" x="0" y="0" font-family="'Liberation Serif', serif" font-size="24.5" text-anchor="middle">Strain (10<tspan font-size="16" dy="-10.5">-3</tspan><tspan dy="10.5">)</tspan></text><g clip-path="url(#clipB)"><path d="M110.00,1339.50C110.73,1338.33 111.47,1337.09 112.20,1336.00C116.41,1329.74 120.62,1324.41 124.83,1319.00C129.04,1313.59 133.25,1308.75 137.46,1303.50C141.67,1298.25 145.88,1292.92 150.09,1287.50C154.30,1282.08 158.51,1276.35 162.72,1271.00C166.93,1265.65 171.14,1260.21 175.35,1255.40C179.56,1250.59 183.77,1246.63 187.98,1242.00C192.19,1237.37 196.40,1232.40 200.61,1227.60C204.82,1222.80 209.03,1217.81 213.24,1213.20C217.45,1208.59 221.66,1203.93 225.87,1199.90C230.08,1195.87 234.29,1191.85 238.50,1188.80C242.71,1185.75 246.92,1181.00 251.13,1181.00C255.34,1181.00 259.55,1181.28 263.76,1181.70C267.97,1182.12 272.18,1184.56 276.39,1188.00C280.60,1191.44 284.81,1203.33 289.02,1216.60C293.23,1229.87 297.44,1264.90 301.65,1282.00C305.86,1299.10 310.07,1321.27 314.28,1324.20C318.49,1327.13 322.70,1328.69 326.91,1329.10C331.12,1329.51 335.33,1329.57 339.54,1329.80C343.75,1330.03 347.96,1330.31 352.17,1330.50C356.38,1330.69 360.59,1330.76 364.80,1331.00C369.01,1331.24 373.22,1332.04 377.43,1332.20C381.64,1332.36 385.85,1332.38 390.06,1332.50C394.27,1332.62 398.48,1333.00 402.69,1333.00C406.90,1333.00 411.11,1333.00 415.32,1333.00C419.53,1333.00 423.74,1333.04 427.95,1333.10C432.16,1333.16 436.37,1334.03 440.58,1334.50" stroke="#3f3f3f" stroke-width="2.1" fill="none" stroke-linejoin="round"/><rect x="108.30" y="1332.10" width="7.80" height="7.80" fill="#484848"/><rect x="120.93" y="1315.10" width="7.80" height="7.80" fill="#484848"/><rect x="133.56" y="1299.60" width="7.80" height="7.80" fill="#484848"/><rect x="146.19" y="1283.60" width="7.80" height="7.80" fill="#484848"/><rect x="158.82" y="1267.10" width="7.80" height="7.80" fill="#484848"/><rect x="171.45" y="1251.50" width="7.80" height="7.80" fill="#484848"/><rect x="184.08" y="1238.10" width="7.80" height="7.80" fill="#484848"/><rect x="196.71" y="1223.70" width="7.80" height="7.80" fill="#484848"/><rect x="209.34" y="1209.30" width="7.80" height="7.80" fill="#484848"/><rect x="221.97" y="1196.00" width="7.80" height="7.80" fill="#484848"/><rect x="234.60" y="1184.90" width="7.80" height="7.80" fill="#484848"/><rect x="247.23" y="1177.10" width="7.80" height="7.80" fill="#484848"/><rect x="259.86" y="1177.80" width="7.80" height="7.80" fill="#484848"/><rect x="272.49" y="1184.10" width="7.80" height="7.80" fill="#484848"/><rect x="285.12" y="1212.70" width="7.80" height="7.80" fill="#484848"/><rect x="297.75" y="1278.10" width="7.80" height="7.80" fill="#484848"/><rect x="310.38" y="1320.30" width="7.80" height="7.80" fill="#484848"/><rect x="323.01" y="1325.20" width="7.80" height="7.80" fill="#484848"/><rect x="335.64" y="1325.90" width="7.80" height="7.80" fill="#484848"/><rect x="348.27" y="1326.60" width="7.80" height="7.80" fill="#484848"/><rect x="360.90" y="1327.10" width="7.80" height="7.80" fill="#484848"/><rect x="373.53" y="1328.30" width="7.80" height="7.80" fill="#484848"/><rect x="386.16" y="1328.60" width="7.80" height="7.80" fill="#484848"/><rect x="398.79" y="1329.10" width="7.80" height="7.80" fill="#484848"/><rect x="411.42" y="1329.10" width="7.80" height="7.80" fill="#484848"/><rect x="424.05" y="1329.20" width="7.80" height="7.80" fill="#484848"/><rect x="436.68" y="1330.60" width="7.80" height="7.80" fill="#484848"/><path d="M110.00,1339.50C110.73,1338.33 111.47,1337.16 112.20,1336.00C116.41,1329.34 120.62,1322.28 124.83,1316.20C129.04,1310.12 133.25,1305.00 137.46,1299.30C141.67,1293.60 145.88,1287.72 150.09,1282.00C154.30,1276.28 158.51,1270.67 162.72,1265.00C166.93,1259.33 171.14,1253.67 175.35,1248.00C179.56,1242.33 183.77,1236.67 187.98,1231.00C192.19,1225.33 196.40,1219.55 200.61,1214.00C204.82,1208.45 209.03,1201.54 213.24,1197.70C217.45,1193.86 221.66,1190.91 225.87,1188.80C230.08,1186.69 234.29,1183.90 238.50,1183.90C242.71,1183.90 246.92,1183.90 251.13,1183.90C255.34,1183.90 259.55,1189.18 263.76,1195.00C267.97,1200.82 272.18,1219.19 276.39,1235.80C280.60,1252.41 284.81,1286.88 289.02,1299.80C293.23,1312.72 297.44,1326.24 301.65,1327.60C305.86,1328.96 310.07,1329.28 314.28,1329.80C318.49,1330.32 322.70,1330.84 326.91,1331.00C331.12,1331.16 335.33,1331.22 339.54,1331.30C343.75,1331.38 347.96,1331.40 352.17,1331.50C356.38,1331.60 360.59,1331.78 364.80,1332.00C369.01,1332.22 373.22,1332.64 377.43,1333.00C381.64,1333.36 385.85,1334.04 390.06,1334.20C394.27,1334.36 398.48,1334.40 402.69,1334.50C406.90,1334.60 411.11,1334.72 415.32,1334.80C419.53,1334.88 423.74,1335.00 427.95,1335.00C432.16,1335.00 436.37,1335.00 440.58,1335.00" stroke="#dc3a3a" stroke-width="2.1" fill="none" stroke-linejoin="round"/><circle cx="112.20" cy="1336.00" r="4.30" fill="#d63a3f"/><circle cx="124.83" cy="1316.20" r="4.30" fill="#d63a3f"/><circle cx="137.46" cy="1299.30" r="4.30" fill="#d63a3f"/><circle cx="150.09" cy="1282.00" r="4.30" fill="#d63a3f"/><circle cx="162.72" cy="1265.00" r="4.30" fill="#d63a3f"/><circle cx="175.35" cy="1248.00" r="4.30" fill="#d63a3f"/><circle cx="187.98" cy="1231.00" r="4.30" fill="#d63a3f"/><circle cx="200.61" cy="1214.00" r="4.30" fill="#d63a3f"/><circle cx="213.24" cy="1197.70" r="4.30" fill="#d63a3f"/><circle cx="225.87" cy="1188.80" r="4.30" fill="#d63a3f"/><circle cx="238.50" cy="1183.90" r="4.30" fill="#d63a3f"/><circle cx="251.13" cy="1183.90" r="4.30" fill="#d63a3f"/><circle cx="263.76" cy="1195.00" r="4.30" fill="#d63a3f"/><circle cx="276.39" cy="1235.80" r="4.30" fill="#d63a3f"/><circle cx="289.02" cy="1299.80" r="4.30" fill="#d63a3f"/><circle cx="301.65" cy="1327.60" r="4.30" fill="#d63a3f"/><circle cx="314.28" cy="1329.80" r="4.30" fill="#d63a3f"/><circle cx="326.91" cy="1331.00" r="4.30" fill="#d63a3f"/><circle cx="339.54" cy="1331.30" r="4.30" fill="#d63a3f"/><circle cx="352.17" cy="1331.50" r="4.30" fill="#d63a3f"/><circle cx="364.80" cy="1332.00" r="4.30" fill="#d63a3f"/><circle cx="377.43" cy="1333.00" r="4.30" fill="#d63a3f"/><circle cx="390.06" cy="1334.20" r="4.30" fill="#d63a3f"/><circle cx="402.69" cy="1334.50" r="4.30" fill="#d63a3f"/><circle cx="415.32" cy="1334.80" r="4.30" fill="#d63a3f"/><circle cx="427.95" cy="1335.00" r="4.30" fill="#d63a3f"/><circle cx="440.58" cy="1335.00" r="4.30" fill="#d63a3f"/><path d="M110.00,1339.50C110.73,1338.33 111.47,1337.16 112.20,1336.00C116.41,1329.37 120.62,1322.60 124.83,1316.40C129.04,1310.20 133.25,1304.43 137.46,1298.70C141.67,1292.97 145.88,1287.73 150.09,1282.00C154.30,1276.27 158.51,1270.22 162.72,1264.30C166.93,1258.38 171.14,1252.43 175.35,1246.50C179.56,1240.57 183.77,1234.62 187.98,1228.70C192.19,1222.78 196.40,1216.92 200.61,1211.00C204.82,1205.08 209.03,1199.12 213.24,1193.20C217.45,1187.28 221.66,1181.23 225.87,1175.50C230.08,1169.77 234.29,1164.54 238.50,1158.80C242.71,1153.06 246.92,1146.52 251.13,1141.00C255.34,1135.48 259.55,1130.67 263.76,1125.50C267.97,1120.33 272.18,1110.00 276.39,1110.00C280.60,1110.00 284.81,1115.66 289.02,1122.20C293.23,1128.74 297.44,1151.18 301.65,1172.20C305.86,1193.22 310.07,1231.73 314.28,1257.60C318.49,1283.47 322.70,1322.45 326.91,1328.70C331.12,1334.95 335.33,1338.38 339.54,1339.50C343.75,1340.62 347.96,1341.50 352.17,1341.50C356.38,1341.50 360.59,1341.50 364.80,1341.50C369.01,1341.50 373.22,1341.50 377.43,1341.50C381.64,1341.50 385.85,1341.50 390.06,1341.50C394.27,1341.50 398.48,1341.50 402.69,1341.50C406.90,1341.50 411.11,1341.50 415.32,1341.50" stroke="#3a6ee0" stroke-width="2.1" fill="none" stroke-linejoin="round"/><path d="M112.20,1330.82L116.90,1339.75L107.50,1339.75Z" fill="#3a6ee0"/><path d="M124.83,1311.22L129.53,1320.15L120.13,1320.15Z" fill="#3a6ee0"/><path d="M137.46,1293.52L142.16,1302.45L132.76,1302.45Z" fill="#3a6ee0"/><path d="M150.09,1276.82L154.79,1285.75L145.39,1285.75Z" fill="#3a6ee0"/><path d="M162.72,1259.12L167.42,1268.05L158.02,1268.05Z" fill="#3a6ee0"/><path d="M175.35,1241.32L180.05,1250.25L170.65,1250.25Z" fill="#3a6ee0"/><path d="M187.98,1223.52L192.68,1232.45L183.28,1232.45Z" fill="#3a6ee0"/><path d="M200.61,1205.82L205.31,1214.75L195.91,1214.75Z" fill="#3a6ee0"/><path d="M213.24,1188.02L217.94,1196.95L208.54,1196.95Z" fill="#3a6ee0"/><path d="M225.87,1170.32L230.57,1179.25L221.17,1179.25Z" fill="#3a6ee0"/><path d="M238.50,1153.62L243.20,1162.55L233.80,1162.55Z" fill="#3a6ee0"/><path d="M251.13,1135.82L255.83,1144.75L246.43,1144.75Z" fill="#3a6ee0"/><path d="M263.76,1120.32L268.46,1129.25L259.06,1129.25Z" fill="#3a6ee0"/><path d="M276.39,1104.82L281.09,1113.75L271.69,1113.75Z" fill="#3a6ee0"/><path d="M289.02,1117.02L293.72,1125.95L284.32,1125.95Z" fill="#3a6ee0"/><path d="M301.65,1167.02L306.35,1175.95L296.95,1175.95Z" fill="#3a6ee0"/><path d="M314.28,1252.42L318.98,1261.35L309.58,1261.35Z" fill="#3a6ee0"/><path d="M326.91,1323.52L331.61,1332.45L322.21,1332.45Z" fill="#3a6ee0"/><path d="M339.54,1334.32L344.24,1343.25L334.84,1343.25Z" fill="#3a6ee0"/><path d="M352.17,1336.32L356.87,1345.25L347.47,1345.25Z" fill="#3a6ee0"/><path d="M364.80,1336.32L369.50,1345.25L360.10,1345.25Z" fill="#3a6ee0"/><path d="M377.43,1336.32L382.13,1345.25L372.73,1345.25Z" fill="#3a6ee0"/><path d="M390.06,1336.32L394.76,1345.25L385.36,1345.25Z" fill="#3a6ee0"/><path d="M402.69,1336.32L407.39,1345.25L397.99,1345.25Z" fill="#3a6ee0"/><path d="M415.32,1336.32L420.02,1345.25L410.62,1345.25Z" fill="#3a6ee0"/><path d="M110.00,1339.50C110.73,1339.00 111.47,1338.61 112.20,1338.00C116.41,1334.51 120.62,1327.07 124.83,1322.00C129.04,1316.93 133.25,1312.12 137.46,1307.50C141.67,1302.88 145.88,1298.62 150.09,1294.20C154.30,1289.78 158.51,1285.43 162.72,1281.00C166.93,1276.57 171.14,1272.05 175.35,1267.60C179.56,1263.15 183.77,1258.73 187.98,1254.30C192.19,1249.87 196.40,1244.28 200.61,1241.00C204.82,1237.72 209.03,1234.75 213.24,1233.20C217.45,1231.65 221.66,1230.80 225.87,1229.90C230.08,1229.00 234.29,1227.60 238.50,1227.60C242.71,1227.60 246.92,1231.25 251.13,1234.30C255.34,1237.35 259.55,1242.77 263.76,1248.70C267.97,1254.63 272.18,1262.61 276.39,1272.00C280.60,1281.39 284.81,1297.95 289.02,1307.60C293.23,1317.25 297.44,1330.06 301.65,1332.00C305.86,1333.94 310.07,1334.75 314.28,1335.30C318.49,1335.85 322.70,1336.40 326.91,1336.40C331.12,1336.40 335.33,1336.40 339.54,1336.40C343.75,1336.40 347.96,1336.40 352.17,1336.40C356.38,1336.40 360.59,1336.40 364.80,1336.40C369.01,1336.40 373.22,1336.40 377.43,1336.40C381.64,1336.40 385.85,1336.40 390.06,1336.40C394.27,1336.40 398.48,1336.40 402.69,1336.40" stroke="#55a660" stroke-width="2.1" fill="none" stroke-linejoin="round"/><circle cx="112.20" cy="1338.00" r="4.50" fill="url(#sph)"/><circle cx="124.83" cy="1322.00" r="4.50" fill="url(#sph)"/><circle cx="137.46" cy="1307.50" r="4.50" fill="url(#sph)"/><circle cx="150.09" cy="1294.20" r="4.50" fill="url(#sph)"/><circle cx="162.72" cy="1281.00" r="4.50" fill="url(#sph)"/><circle cx="175.35" cy="1267.60" r="4.50" fill="url(#sph)"/><circle cx="187.98" cy="1254.30" r="4.50" fill="url(#sph)"/><circle cx="200.61" cy="1241.00" r="4.50" fill="url(#sph)"/><circle cx="213.24" cy="1233.20" r="4.50" fill="url(#sph)"/><circle cx="225.87" cy="1229.90" r="4.50" fill="url(#sph)"/><circle cx="238.50" cy="1227.60" r="4.50" fill="url(#sph)"/><circle cx="251.13" cy="1234.30" r="4.50" fill="url(#sph)"/><circle cx="263.76" cy="1248.70" r="4.50" fill="url(#sph)"/><circle cx="276.39" cy="1272.00" r="4.50" fill="url(#sph)"/><circle cx="289.02" cy="1307.60" r="4.50" fill="url(#sph)"/><circle cx="301.65" cy="1332.00" r="4.50" fill="url(#sph)"/><circle cx="314.28" cy="1335.30" r="4.50" fill="url(#sph)"/><circle cx="326.91" cy="1336.40" r="4.50" fill="url(#sph)"/><circle cx="339.54" cy="1336.40" r="4.50" fill="url(#sph)"/><circle cx="352.17" cy="1336.40" r="4.50" fill="url(#sph)"/><circle cx="364.80" cy="1336.40" r="4.50" fill="url(#sph)"/><circle cx="377.43" cy="1336.40" r="4.50" fill="url(#sph)"/><circle cx="390.06" cy="1336.40" r="4.50" fill="url(#sph)"/><circle cx="402.69" cy="1336.40" r="4.50" fill="url(#sph)"/><path d="M110.00,1339.50C110.73,1338.33 111.47,1337.14 112.20,1336.00C116.41,1329.45 120.62,1322.98 124.83,1317.00C129.04,1311.02 133.25,1305.67 137.46,1300.00C141.67,1294.33 145.88,1288.83 150.09,1283.00C154.30,1277.17 158.51,1270.90 162.72,1265.00C166.93,1259.10 171.14,1253.35 175.35,1247.60C179.56,1241.85 183.77,1236.20 187.98,1230.50C192.19,1224.80 196.40,1219.10 200.61,1213.40C204.82,1207.70 209.03,1202.00 213.24,1196.30C217.45,1190.60 221.66,1184.88 225.87,1179.20C230.08,1173.52 234.29,1168.01 238.50,1162.20C242.71,1156.39 246.92,1150.06 251.13,1144.30C255.34,1138.54 259.55,1133.15 263.76,1127.60C267.97,1122.05 272.18,1116.36 276.39,1111.00C280.60,1105.64 284.81,1100.58 289.02,1095.40C293.23,1090.22 297.44,1084.96 301.65,1079.90C305.86,1074.84 310.07,1069.81 314.28,1065.00C318.49,1060.19 322.70,1055.46 326.91,1051.00C331.12,1046.54 335.33,1041.38 339.54,1038.20C343.75,1035.02 347.96,1030.60 352.17,1030.60C356.38,1030.60 360.59,1030.74 364.80,1031.00C369.01,1031.26 373.22,1039.01 377.43,1046.60C381.64,1054.19 385.85,1071.91 390.06,1088.80C394.27,1105.69 398.48,1135.33 402.69,1152.20C406.90,1169.07 411.11,1193.59 415.32,1194.30C419.53,1195.01 423.74,1195.40 427.95,1195.40C432.16,1195.40 436.37,1194.33 440.58,1193.80C444.79,1193.27 449.00,1192.89 453.21,1192.20C457.42,1191.51 461.63,1190.33 465.84,1189.30C470.05,1188.27 474.26,1187.01 478.47,1186.00C482.68,1184.99 486.89,1184.10 491.10,1183.20C495.31,1182.30 499.52,1181.18 503.73,1180.60C507.94,1180.02 512.15,1179.63 516.36,1179.30C520.57,1178.97 524.78,1178.71 528.99,1178.50C533.20,1178.29 537.41,1178.00 541.62,1178.00C545.83,1178.00 550.04,1179.91 554.25,1181.30C558.46,1182.69 562.67,1184.48 566.88,1187.00C571.09,1189.52 575.30,1194.57 579.51,1198.20C583.72,1201.83 587.93,1203.65 592.14,1208.80C596.35,1213.95 600.56,1228.29 604.77,1237.30C608.98,1246.31 613.19,1254.43 617.40,1263.00" stroke="#9a6ddd" stroke-width="2.1" fill="none" stroke-linejoin="round"/><path d="M617.40,1263.00 L621.00,1341.80 L740.00,1341.80" stroke="#9a6ddd" stroke-width="2.1" fill="none"/><path d="M112.20,1331.00 L113.43,1334.30 L116.96,1334.45 L114.20,1336.65 L115.14,1340.05 L112.20,1338.10 L109.26,1340.05 L110.20,1336.65 L107.44,1334.45 L110.97,1334.30Z" fill="#9a6ddd"/><path d="M124.83,1312.00 L126.06,1315.30 L129.59,1315.45 L126.83,1317.65 L127.77,1321.05 L124.83,1319.10 L121.89,1321.05 L122.83,1317.65 L120.07,1315.45 L123.60,1315.30Z" fill="#9a6ddd"/><path d="M137.46,1295.00 L138.69,1298.30 L142.22,1298.45 L139.46,1300.65 L140.40,1304.05 L137.46,1302.10 L134.52,1304.05 L135.46,1300.65 L132.70,1298.45 L136.23,1298.30Z" fill="#9a6ddd"/><path d="M150.09,1278.00 L151.32,1281.30 L154.85,1281.45 L152.09,1283.65 L153.03,1287.05 L150.09,1285.10 L147.15,1287.05 L148.09,1283.65 L145.33,1281.45 L148.86,1281.30Z" fill="#9a6ddd"/><path d="M162.72,1260.00 L163.95,1263.30 L167.48,1263.45 L164.72,1265.65 L165.66,1269.05 L162.72,1267.10 L159.78,1269.05 L160.72,1265.65 L157.96,1263.45 L161.49,1263.30Z" fill="#9a6ddd"/><path d="M175.35,1242.60 L176.58,1245.90 L180.11,1246.05 L177.35,1248.25 L178.29,1251.65 L175.35,1249.70 L172.41,1251.65 L173.35,1248.25 L170.59,1246.05 L174.12,1245.90Z" fill="#9a6ddd"/><path d="M187.98,1225.50 L189.21,1228.80 L192.74,1228.95 L189.98,1231.15 L190.92,1234.55 L187.98,1232.60 L185.04,1234.55 L185.98,1231.15 L183.22,1228.95 L186.75,1228.80Z" fill="#9a6ddd"/><path d="M200.61,1208.40 L201.84,1211.70 L205.37,1211.85 L202.61,1214.05 L203.55,1217.45 L200.61,1215.50 L197.67,1217.45 L198.61,1214.05 L195.85,1211.85 L199.38,1211.70Z" fill="#9a6ddd"/><path d="M213.24,1191.30 L214.47,1194.60 L218.00,1194.75 L215.24,1196.95 L216.18,1200.35 L213.24,1198.40 L210.30,1200.35 L211.24,1196.95 L208.48,1194.75 L212.01,1194.60Z" fill="#9a6ddd"/><path d="M225.87,1174.20 L227.10,1177.50 L230.63,1177.65 L227.87,1179.85 L228.81,1183.25 L225.87,1181.30 L222.93,1183.25 L223.87,1179.85 L221.11,1177.65 L224.64,1177.50Z" fill="#9a6ddd"/><path d="M238.50,1157.20 L239.73,1160.50 L243.26,1160.65 L240.50,1162.85 L241.44,1166.25 L238.50,1164.30 L235.56,1166.25 L236.50,1162.85 L233.74,1160.65 L237.27,1160.50Z" fill="#9a6ddd"/><path d="M251.13,1139.30 L252.36,1142.60 L255.89,1142.75 L253.13,1144.95 L254.07,1148.35 L251.13,1146.40 L248.19,1148.35 L249.13,1144.95 L246.37,1142.75 L249.90,1142.60Z" fill="#9a6ddd"/><path d="M263.76,1122.60 L264.99,1125.90 L268.52,1126.05 L265.76,1128.25 L266.70,1131.65 L263.76,1129.70 L260.82,1131.65 L261.76,1128.25 L259.00,1126.05 L262.53,1125.90Z" fill="#9a6ddd"/><path d="M276.39,1106.00 L277.62,1109.30 L281.15,1109.45 L278.39,1111.65 L279.33,1115.05 L276.39,1113.10 L273.45,1115.05 L274.39,1111.65 L271.63,1109.45 L275.16,1109.30Z" fill="#9a6ddd"/><path d="M289.02,1090.40 L290.25,1093.70 L293.78,1093.85 L291.02,1096.05 L291.96,1099.45 L289.02,1097.50 L286.08,1099.45 L287.02,1096.05 L284.26,1093.85 L287.79,1093.70Z" fill="#9a6ddd"/><path d="M301.65,1074.90 L302.88,1078.20 L306.41,1078.35 L303.65,1080.55 L304.59,1083.95 L301.65,1082.00 L298.71,1083.95 L299.65,1080.55 L296.89,1078.35 L300.42,1078.20Z" fill="#9a6ddd"/><path d="M314.28,1060.00 L315.51,1063.30 L319.04,1063.45 L316.28,1065.65 L317.22,1069.05 L314.28,1067.10 L311.34,1069.05 L312.28,1065.65 L309.52,1063.45 L313.05,1063.30Z" fill="#9a6ddd"/><path d="M326.91,1046.00 L328.14,1049.30 L331.67,1049.45 L328.91,1051.65 L329.85,1055.05 L326.91,1053.10 L323.97,1055.05 L324.91,1051.65 L322.15,1049.45 L325.68,1049.30Z" fill="#9a6ddd"/><path d="M339.54,1033.20 L340.77,1036.50 L344.30,1036.65 L341.54,1038.85 L342.48,1042.25 L339.54,1040.30 L336.60,1042.25 L337.54,1038.85 L334.78,1036.65 L338.31,1036.50Z" fill="#9a6ddd"/><path d="M352.17,1025.60 L353.40,1028.90 L356.93,1029.05 L354.17,1031.25 L355.11,1034.65 L352.17,1032.70 L349.23,1034.65 L350.17,1031.25 L347.41,1029.05 L350.94,1028.90Z" fill="#9a6ddd"/><path d="M364.80,1026.00 L366.03,1029.30 L369.56,1029.45 L366.80,1031.65 L367.74,1035.05 L364.80,1033.10 L361.86,1035.05 L362.80,1031.65 L360.04,1029.45 L363.57,1029.30Z" fill="#9a6ddd"/><path d="M377.43,1041.60 L378.66,1044.90 L382.19,1045.05 L379.43,1047.25 L380.37,1050.65 L377.43,1048.70 L374.49,1050.65 L375.43,1047.25 L372.67,1045.05 L376.20,1044.90Z" fill="#9a6ddd"/><path d="M390.06,1083.80 L391.29,1087.10 L394.82,1087.25 L392.06,1089.45 L393.00,1092.85 L390.06,1090.90 L387.12,1092.85 L388.06,1089.45 L385.30,1087.25 L388.83,1087.10Z" fill="#9a6ddd"/><path d="M402.69,1147.20 L403.92,1150.50 L407.45,1150.65 L404.69,1152.85 L405.63,1156.25 L402.69,1154.30 L399.75,1156.25 L400.69,1152.85 L397.93,1150.65 L401.46,1150.50Z" fill="#9a6ddd"/><path d="M415.32,1189.30 L416.55,1192.60 L420.08,1192.75 L417.32,1194.95 L418.26,1198.35 L415.32,1196.40 L412.38,1198.35 L413.32,1194.95 L410.56,1192.75 L414.09,1192.60Z" fill="#9a6ddd"/><path d="M427.95,1190.40 L429.18,1193.70 L432.71,1193.85 L429.95,1196.05 L430.89,1199.45 L427.95,1197.50 L425.01,1199.45 L425.95,1196.05 L423.19,1193.85 L426.72,1193.70Z" fill="#9a6ddd"/><path d="M440.58,1188.80 L441.81,1192.10 L445.34,1192.25 L442.58,1194.45 L443.52,1197.85 L440.58,1195.90 L437.64,1197.85 L438.58,1194.45 L435.82,1192.25 L439.35,1192.10Z" fill="#9a6ddd"/><path d="M453.21,1187.20 L454.44,1190.50 L457.97,1190.65 L455.21,1192.85 L456.15,1196.25 L453.21,1194.30 L450.27,1196.25 L451.21,1192.85 L448.45,1190.65 L451.98,1190.50Z" fill="#9a6ddd"/><path d="M465.84,1184.30 L467.07,1187.60 L470.60,1187.75 L467.84,1189.95 L468.78,1193.35 L465.84,1191.40 L462.90,1193.35 L463.84,1189.95 L461.08,1187.75 L464.61,1187.60Z" fill="#9a6ddd"/><path d="M478.47,1181.00 L479.70,1184.30 L483.23,1184.45 L480.47,1186.65 L481.41,1190.05 L478.47,1188.10 L475.53,1190.05 L476.47,1186.65 L473.71,1184.45 L477.24,1184.30Z" fill="#9a6ddd"/><path d="M491.10,1178.20 L492.33,1181.50 L495.86,1181.65 L493.10,1183.85 L494.04,1187.25 L491.10,1185.30 L488.16,1187.25 L489.10,1183.85 L486.34,1181.65 L489.87,1181.50Z" fill="#9a6ddd"/><path d="M503.73,1175.60 L504.96,1178.90 L508.49,1179.05 L505.73,1181.25 L506.67,1184.65 L503.73,1182.70 L500.79,1184.65 L501.73,1181.25 L498.97,1179.05 L502.50,1178.90Z" fill="#9a6ddd"/><path d="M516.36,1174.30 L517.59,1177.60 L521.12,1177.75 L518.36,1179.95 L519.30,1183.35 L516.36,1181.40 L513.42,1183.35 L514.36,1179.95 L511.60,1177.75 L515.13,1177.60Z" fill="#9a6ddd"/><path d="M528.99,1173.50 L530.22,1176.80 L533.75,1176.95 L530.99,1179.15 L531.93,1182.55 L528.99,1180.60 L526.05,1182.55 L526.99,1179.15 L524.23,1176.95 L527.76,1176.80Z" fill="#9a6ddd"/><path d="M541.62,1173.00 L542.85,1176.30 L546.38,1176.45 L543.62,1178.65 L544.56,1182.05 L541.62,1180.10 L538.68,1182.05 L539.62,1178.65 L536.86,1176.45 L540.39,1176.30Z" fill="#9a6ddd"/><path d="M554.25,1176.30 L555.48,1179.60 L559.01,1179.75 L556.25,1181.95 L557.19,1185.35 L554.25,1183.40 L551.31,1185.35 L552.25,1181.95 L549.49,1179.75 L553.02,1179.60Z" fill="#9a6ddd"/><path d="M566.88,1182.00 L568.11,1185.30 L571.64,1185.45 L568.88,1187.65 L569.82,1191.05 L566.88,1189.10 L563.94,1191.05 L564.88,1187.65 L562.12,1185.45 L565.65,1185.30Z" fill="#9a6ddd"/><path d="M579.51,1193.20 L580.74,1196.50 L584.27,1196.65 L581.51,1198.85 L582.45,1202.25 L579.51,1200.30 L576.57,1202.25 L577.51,1198.85 L574.75,1196.65 L578.28,1196.50Z" fill="#9a6ddd"/><path d="M592.14,1203.80 L593.37,1207.10 L596.90,1207.25 L594.14,1209.45 L595.08,1212.85 L592.14,1210.90 L589.20,1212.85 L590.14,1209.45 L587.38,1207.25 L590.91,1207.10Z" fill="#9a6ddd"/><path d="M604.77,1232.30 L606.00,1235.60 L609.53,1235.75 L606.77,1237.95 L607.71,1241.35 L604.77,1239.40 L601.83,1241.35 L602.77,1237.95 L600.01,1235.75 L603.54,1235.60Z" fill="#9a6ddd"/><path d="M617.40,1258.00 L618.63,1261.30 L622.16,1261.45 L619.40,1263.65 L620.34,1267.05 L617.40,1265.10 L614.46,1267.05 L615.40,1263.65 L612.64,1261.45 L616.17,1261.30Z" fill="#9a6ddd"/><path d="M110.00,1339.50C110.73,1338.67 111.47,1337.89 112.20,1337.00C116.41,1331.89 120.62,1325.25 124.83,1319.80C129.04,1314.35 133.25,1309.38 137.46,1304.20C141.67,1299.02 145.88,1294.06 150.09,1288.70C154.30,1283.34 158.51,1277.55 162.72,1272.00C166.93,1266.45 171.14,1260.95 175.35,1255.40C179.56,1249.85 183.77,1244.27 187.98,1238.70C192.19,1233.13 196.40,1227.36 200.61,1222.00C204.82,1216.64 209.03,1211.84 213.24,1206.50C217.45,1201.16 221.66,1195.24 225.87,1189.90C230.08,1184.56 234.29,1179.58 238.50,1174.40C242.71,1169.22 246.92,1163.98 251.13,1158.80C255.34,1153.62 259.55,1148.28 263.76,1143.30C267.97,1138.32 272.18,1133.34 276.39,1128.90C280.60,1124.46 284.81,1120.78 289.02,1116.50C293.23,1112.22 297.44,1106.75 301.65,1103.20C305.86,1099.65 310.07,1096.26 314.28,1094.30C318.49,1092.34 322.70,1089.90 326.91,1089.90C331.12,1089.90 335.33,1091.80 339.54,1094.30C343.75,1096.80 347.96,1108.14 352.17,1119.80C356.38,1131.46 360.59,1154.00 364.80,1175.50C369.01,1197.00 373.22,1232.27 377.43,1252.10C378.99,1259.43 380.54,1269.04 382.10,1271.00C384.75,1274.34 387.41,1276.06 390.06,1276.50C394.27,1277.19 398.48,1277.60 402.69,1277.60C406.90,1277.60 411.11,1275.40 415.32,1275.40C419.53,1275.40 423.74,1278.15 427.95,1278.70C432.16,1279.25 436.37,1279.80 440.58,1279.80C444.79,1279.80 449.00,1279.80 453.21,1279.80C457.42,1279.80 461.63,1281.04 465.84,1281.60C470.05,1282.16 474.26,1283.20 478.47,1283.20C482.68,1283.20 486.89,1283.02 491.10,1282.80C495.31,1282.58 499.52,1281.37 503.73,1281.00C507.94,1280.63 512.15,1280.20 516.36,1280.20C520.57,1280.20 524.78,1280.20 528.99,1280.20C533.20,1280.20 537.41,1281.38 541.62,1282.80C545.83,1284.22 550.04,1291.29 554.25,1294.40C558.46,1297.51 562.67,1299.09 566.88,1302.20C571.09,1305.31 575.30,1310.84 579.51,1313.80C583.72,1316.76 587.93,1320.52 592.14,1321.00C596.35,1321.48 600.56,1321.36 604.77,1321.80C608.98,1322.24 613.19,1325.50 617.40,1325.50C621.61,1325.50 625.82,1325.50 630.03,1325.50C634.24,1325.50 638.45,1325.39 642.66,1325.30C646.87,1325.21 651.08,1325.03 655.29,1324.90C659.50,1324.77 663.71,1324.65 667.92,1324.50C672.13,1324.35 676.34,1324.15 680.55,1324.00C684.76,1323.85 688.97,1323.76 693.18,1323.60C697.39,1323.44 701.60,1323.16 705.81,1323.00C710.02,1322.84 714.23,1322.60 718.44,1322.60C722.65,1322.60 726.86,1324.80 731.07,1325.10C734.05,1325.31 737.02,1325.37 740.00,1325.50" stroke="#c9a227" stroke-width="2.1" fill="none" stroke-linejoin="round"/><path d="M112.20,1331.50L112.20,1342.50M108.31,1333.11L116.09,1340.89M116.09,1333.11L108.31,1340.89M106.70,1337.00L117.70,1337.00" stroke="#dcb850" stroke-width="1.1" fill="none"/><path d="M124.83,1314.30L124.83,1325.30M120.94,1315.91L128.72,1323.69M128.72,1315.91L120.94,1323.69M119.33,1319.80L130.33,1319.80" stroke="#dcb850" stroke-width="1.1" fill="none"/><path d="M137.46,1298.70L137.46,1309.70M133.57,1300.31L141.35,1308.09M141.35,1300.31L133.57,1308.09M131.96,1304.20L142.96,1304.20" stroke="#dcb850" stroke-width="1.1" fill="none"/><path d="M150.09,1283.20L150.09,1294.20M146.20,1284.81L153.98,1292.59M153.98,1284.81L146.20,1292.59M144.59,1288.70L155.59,1288.70" stroke="#dcb850" stroke-width="1.1" fill="none"/><path d="M162.72,1266.50L162.72,1277.50M158.83,1268.11L166.61,1275.89M166.61,1268.11L158.83,1275.89M157.22,1272.00L168.22,1272.00" stroke="#dcb850" stroke-width="1.1" fill="none"/><path d="M175.35,1249.90L175.35,1260.90M171.46,1251.51L179.24,1259.29M179.24,1251.51L171.46,1259.29M169.85,1255.40L180.85,1255.40" stroke="#dcb850" stroke-width="1.1" fill="none"/><path d="M187.98,1233.20L187.98,1244.20M184.09,1234.81L191.87,1242.59M191.87,1234.81L184.09,1242.59M182.48,1238.70L193.48,1238.70" stroke="#dcb850" stroke-width="1.1" fill="none"/><path d="M200.61,1216.50L200.61,1227.50M196.72,1218.11L204.50,1225.89M204.50,1218.11L196.72,1225.89M195.11,1222.00L206.11,1222.00" stroke="#dcb850" stroke-width="1.1" fill="none"/><path d="M213.24,1201.00L213.24,1212.00M209.35,1202.61L217.13,1210.39M217.13,1202.61L209.35,1210.39M207.74,1206.50L218.74,1206.50" stroke="#dcb850" stroke-width="1.1" fill="none"/><path d="M225.87,1184.40L225.87,1195.40M221.98,1186.01L229.76,1193.79M229.76,1186.01L221.98,1193.79M220.37,1189.90L231.37,1189.90" stroke="#dcb850" stroke-width="1.1" fill="none"/><path d="M238.50,1168.90L238.50,1179.90M234.61,1170.51L242.39,1178.29M242.39,1170.51L234.61,1178.29M233.00,1174.40L244.00,1174.40" stroke="#dcb850" stroke-width="1.1" fill="none"/><path d="M251.13,1153.30L251.13,1164.30M247.24,1154.91L255.02,1162.69M255.02,1154.91L247.24,1162.69M245.63,1158.80L256.63,1158.80" stroke="#dcb850" stroke-width="1.1" fill="none"/><path d="M263.76,1137.80L263.76,1148.80M259.87,1139.41L267.65,1147.19M267.65,1139.41L259.87,1147.19M258.26,1143.30L269.26,1143.30" stroke="#dcb850" stroke-width="1.1" fill="none"/><path d="M276.39,1123.40L276.39,1134.40M272.50,1125.01L280.28,1132.79M280.28,1125.01L272.50,1132.79M270.89,1128.90L281.89,1128.90" stroke="#dcb850" stroke-width="1.1" fill="none"/><path d="M289.02,1111.00L289.02,1122.00M285.13,1112.61L292.91,1120.39M292.91,1112.61L285.13,1120.39M283.52,1116.50L294.52,1116.50" stroke="#dcb850" stroke-width="1.1" fill="none"/><path d="M301.65,1097.70L301.65,1108.70M297.76,1099.31L305.54,1107.09M305.54,1099.31L297.76,1107.09M296.15,1103.20L307.15,1103.20" stroke="#dcb850" stroke-width="1.1" fill="none"/><path d="M314.28,1088.80L314.28,1099.80M310.39,1090.41L318.17,1098.19M318.17,1090.41L310.39,1098.19M308.78,1094.30L319.78,1094.30" stroke="#dcb850" stroke-width="1.1" fill="none"/><path d="M326.91,1084.40L326.91,1095.40M323.02,1086.01L330.80,1093.79M330.80,1086.01L323.02,1093.79M321.41,1089.90L332.41,1089.90" stroke="#dcb850" stroke-width="1.1" fill="none"/><path d="M339.54,1088.80L339.54,1099.80M335.65,1090.41L343.43,1098.19M343.43,1090.41L335.65,1098.19M334.04,1094.30L345.04,1094.30" stroke="#dcb850" stroke-width="1.1" fill="none"/><path d="M352.17,1114.30L352.17,1125.30M348.28,1115.91L356.06,1123.69M356.06,1115.91L348.28,1123.69M346.67,1119.80L357.67,1119.80" stroke="#dcb850" stroke-width="1.1" fill="none"/><path d="M364.80,1170.00L364.80,1181.00M360.91,1171.61L368.69,1179.39M368.69,1171.61L360.91,1179.39M359.30,1175.50L370.30,1175.50" stroke="#dcb850" stroke-width="1.1" fill="none"/><path d="M377.43,1246.60L377.43,1257.60M373.54,1248.21L381.32,1255.99M381.32,1248.21L373.54,1255.99M371.93,1252.10L382.93,1252.10" stroke="#dcb850" stroke-width="1.1" fill="none"/><path d="M390.06,1271.00L390.06,1282.00M386.17,1272.61L393.95,1280.39M393.95,1272.61L386.17,1280.39M384.56,1276.50L395.56,1276.50" stroke="#dcb850" stroke-width="1.1" fill="none"/><path d="M402.69,1272.10L402.69,1283.10M398.80,1273.71L406.58,1281.49M406.58,1273.71L398.80,1281.49M397.19,1277.60L408.19,1277.60" stroke="#dcb850" stroke-width="1.1" fill="none"/><path d="M415.32,1269.90L415.32,1280.90M411.43,1271.51L419.21,1279.29M419.21,1271.51L411.43,1279.29M409.82,1275.40L420.82,1275.40" stroke="#dcb850" stroke-width="1.1" fill="none"/><path d="M427.95,1273.20L427.95,1284.20M424.06,1274.81L431.84,1282.59M431.84,1274.81L424.06,1282.59M422.45,1278.70L433.45,1278.70" stroke="#dcb850" stroke-width="1.1" fill="none"/><path d="M440.58,1274.30L440.58,1285.30M436.69,1275.91L444.47,1283.69M444.47,1275.91L436.69,1283.69M435.08,1279.80L446.08,1279.80" stroke="#dcb850" stroke-width="1.1" fill="none"/><path d="M453.21,1274.30L453.21,1285.30M449.32,1275.91L457.10,1283.69M457.10,1275.91L449.32,1283.69M447.71,1279.80L458.71,1279.80" stroke="#dcb850" stroke-width="1.1" fill="none"/><path d="M465.84,1276.10L465.84,1287.10M461.95,1277.71L469.73,1285.49M469.73,1277.71L461.95,1285.49M460.34,1281.60L471.34,1281.60" stroke="#dcb850" stroke-width="1.1" fill="none"/><path d="M478.47,1277.70L478.47,1288.70M474.58,1279.31L482.36,1287.09M482.36,1279.31L474.58,1287.09M472.97,1283.20L483.97,1283.20" stroke="#dcb850" stroke-width="1.1" fill="none"/><path d="M491.10,1277.30L491.10,1288.30M487.21,1278.91L494.99,1286.69M494.99,1278.91L487.21,1286.69M485.60,1282.80L496.60,1282.80" stroke="#dcb850" stroke-width="1.1" fill="none"/><path d="M503.73,1275.50L503.73,1286.50M499.84,1277.11L507.62,1284.89M507.62,1277.11L499.84,1284.89M498.23,1281.00L509.23,1281.00" stroke="#dcb850" stroke-width="1.1" fill="none"/><path d="M516.36,1274.70L516.36,1285.70M512.47,1276.31L520.25,1284.09M520.25,1276.31L512.47,1284.09M510.86,1280.20L521.86,1280.20" stroke="#dcb850" stroke-width="1.1" fill="none"/><path d="M528.99,1274.70L528.99,1285.70M525.10,1276.31L532.88,1284.09M532.88,1276.31L525.10,1284.09M523.49,1280.20L534.49,1280.20" stroke="#dcb850" stroke-width="1.1" fill="none"/><path d="M541.62,1277.30L541.62,1288.30M537.73,1278.91L545.51,1286.69M545.51,1278.91L537.73,1286.69M536.12,1282.80L547.12,1282.80" stroke="#dcb850" stroke-width="1.1" fill="none"/><path d="M554.25,1288.90L554.25,1299.90M550.36,1290.51L558.14,1298.29M558.14,1290.51L550.36,1298.29M548.75,1294.40L559.75,1294.40" stroke="#dcb850" stroke-width="1.1" fill="none"/><path d="M566.88,1296.70L566.88,1307.70M562.99,1298.31L570.77,1306.09M570.77,1298.31L562.99,1306.09M561.38,1302.20L572.38,1302.20" stroke="#dcb850" stroke-width="1.1" fill="none"/><path d="M579.51,1308.30L579.51,1319.30M575.62,1309.91L583.40,1317.69M583.40,1309.91L575.62,1317.69M574.01,1313.80L585.01,1313.80" stroke="#dcb850" stroke-width="1.1" fill="none"/><path d="M592.14,1315.50L592.14,1326.50M588.25,1317.11L596.03,1324.89M596.03,1317.11L588.25,1324.89M586.64,1321.00L597.64,1321.00" stroke="#dcb850" stroke-width="1.1" fill="none"/><path d="M604.77,1316.30L604.77,1327.30M600.88,1317.91L608.66,1325.69M608.66,1317.91L600.88,1325.69M599.27,1321.80L610.27,1321.80" stroke="#dcb850" stroke-width="1.1" fill="none"/><path d="M617.40,1320.00L617.40,1331.00M613.51,1321.61L621.29,1329.39M621.29,1321.61L613.51,1329.39M611.90,1325.50L622.90,1325.50" stroke="#dcb850" stroke-width="1.1" fill="none"/><path d="M630.03,1320.00L630.03,1331.00M626.14,1321.61L633.92,1329.39M633.92,1321.61L626.14,1329.39M624.53,1325.50L635.53,1325.50" stroke="#dcb850" stroke-width="1.1" fill="none"/><path d="M642.66,1319.80L642.66,1330.80M638.77,1321.41L646.55,1329.19M646.55,1321.41L638.77,1329.19M637.16,1325.30L648.16,1325.30" stroke="#dcb850" stroke-width="1.1" fill="none"/><path d="M655.29,1319.40L655.29,1330.40M651.40,1321.01L659.18,1328.79M659.18,1321.01L651.40,1328.79M649.79,1324.90L660.79,1324.90" stroke="#dcb850" stroke-width="1.1" fill="none"/><path d="M667.92,1319.00L667.92,1330.00M664.03,1320.61L671.81,1328.39M671.81,1320.61L664.03,1328.39M662.42,1324.50L673.42,1324.50" stroke="#dcb850" stroke-width="1.1" fill="none"/><path d="M680.55,1318.50L680.55,1329.50M676.66,1320.11L684.44,1327.89M684.44,1320.11L676.66,1327.89M675.05,1324.00L686.05,1324.00" stroke="#dcb850" stroke-width="1.1" fill="none"/><path d="M693.18,1318.10L693.18,1329.10M689.29,1319.71L697.07,1327.49M697.07,1319.71L689.29,1327.49M687.68,1323.60L698.68,1323.60" stroke="#dcb850" stroke-width="1.1" fill="none"/><path d="M705.81,1317.50L705.81,1328.50M701.92,1319.11L709.70,1326.89M709.70,1319.11L701.92,1326.89M700.31,1323.00L711.31,1323.00" stroke="#dcb850" stroke-width="1.1" fill="none"/><path d="M718.44,1317.10L718.44,1328.10M714.55,1318.71L722.33,1326.49M722.33,1318.71L714.55,1326.49M712.94,1322.60L723.94,1322.60" stroke="#dcb850" stroke-width="1.1" fill="none"/><path d="M731.07,1319.60L731.07,1330.60M727.18,1321.21L734.96,1328.99M734.96,1321.21L727.18,1328.99M725.57,1325.10L736.57,1325.10" stroke="#dcb850" stroke-width="1.1" fill="none"/><path d="M110.00,1339.50C110.73,1338.83 111.47,1338.17 112.20,1337.50C116.41,1333.66 120.62,1329.82 124.83,1325.90C129.04,1321.98 133.25,1318.06 137.46,1314.00C141.67,1309.94 145.88,1305.49 150.09,1301.50C154.30,1297.51 158.51,1293.98 162.72,1290.00C166.93,1286.02 171.14,1281.70 175.35,1277.60C179.56,1273.50 183.77,1269.47 187.98,1265.40C192.19,1261.33 196.40,1257.07 200.61,1253.20C204.82,1249.33 209.03,1245.97 213.24,1242.10C217.45,1238.23 221.66,1233.98 225.87,1229.90C230.08,1225.82 234.29,1221.49 238.50,1217.60C242.71,1213.71 246.92,1209.99 251.13,1206.50C255.34,1203.01 259.55,1199.51 263.76,1196.60C267.97,1193.69 272.18,1189.44 276.39,1188.80C280.60,1188.16 284.81,1187.70 289.02,1187.70C293.23,1187.70 297.44,1192.73 301.65,1196.60C305.86,1200.47 310.07,1207.10 314.28,1213.30C318.49,1219.50 322.70,1227.67 326.91,1234.30C331.12,1240.93 335.33,1247.75 339.54,1253.20C343.75,1258.65 347.96,1262.61 352.17,1267.60C356.38,1272.59 360.59,1277.52 364.80,1283.20C369.01,1288.88 373.22,1296.10 377.43,1302.00C381.64,1307.90 385.85,1314.00 390.06,1318.70C394.27,1323.40 398.48,1327.91 402.69,1330.90C406.90,1333.89 411.11,1336.66 415.32,1338.00C419.53,1339.34 423.74,1340.80 427.95,1340.80C432.16,1340.80 436.37,1340.80 440.58,1340.80C444.79,1340.80 449.00,1340.80 453.21,1340.80C457.42,1340.80 461.63,1340.80 465.84,1340.80C470.05,1340.80 474.26,1340.80 478.47,1340.80C482.68,1340.80 486.89,1340.80 491.10,1340.80C495.31,1340.80 499.52,1340.80 503.73,1340.80C507.94,1340.80 512.15,1340.80 516.36,1340.80C520.57,1340.80 524.78,1340.80 528.99,1340.80C533.20,1340.80 537.41,1340.80 541.62,1340.80C545.83,1340.80 550.04,1340.80 554.25,1340.80C558.46,1340.80 562.67,1340.80 566.88,1340.80C571.09,1340.80 575.30,1340.80 579.51,1340.80C583.72,1340.80 587.93,1340.80 592.14,1340.80C596.35,1340.80 600.56,1340.80 604.77,1340.80C608.98,1340.80 613.19,1340.80 617.40,1340.80C621.61,1340.80 625.82,1340.80 630.03,1340.80C634.24,1340.80 638.45,1340.80 642.66,1340.80C646.87,1340.80 651.08,1340.80 655.29,1340.80C659.50,1340.80 663.71,1340.80 667.92,1340.80C672.13,1340.80 676.34,1340.80 680.55,1340.80C684.76,1340.80 688.97,1340.80 693.18,1340.80C697.39,1340.80 701.60,1340.80 705.81,1340.80C710.02,1340.80 714.23,1340.80 718.44,1340.80C722.65,1340.80 726.86,1340.80 731.07,1340.80C734.05,1340.80 737.02,1340.80 740.00,1340.80" stroke="#5fc6c6" stroke-width="2.1" fill="none" stroke-linejoin="round"/><path d="M112.20,1332.91 L117.05,1336.43 L115.20,1342.14 L109.20,1342.14 L107.35,1336.43Z" fill="#6cc9c9"/><path d="M124.83,1321.31 L129.68,1324.83 L127.83,1330.54 L121.83,1330.54 L119.98,1324.83Z" fill="#6cc9c9"/><path d="M137.46,1309.41 L142.31,1312.93 L140.46,1318.64 L134.46,1318.64 L132.61,1312.93Z" fill="#6cc9c9"/><path d="M150.09,1296.91 L154.94,1300.43 L153.09,1306.14 L147.09,1306.14 L145.24,1300.43Z" fill="#6cc9c9"/><path d="M162.72,1285.41 L167.57,1288.93 L165.72,1294.64 L159.72,1294.64 L157.87,1288.93Z" fill="#6cc9c9"/><path d="M175.35,1273.01 L180.20,1276.53 L178.35,1282.24 L172.35,1282.24 L170.50,1276.53Z" fill="#6cc9c9"/><path d="M187.98,1260.81 L192.83,1264.33 L190.98,1270.04 L184.98,1270.04 L183.13,1264.33Z" fill="#6cc9c9"/><path d="M200.61,1248.61 L205.46,1252.13 L203.61,1257.84 L197.61,1257.84 L195.76,1252.13Z" fill="#6cc9c9"/><path d="M213.24,1237.51 L218.09,1241.03 L216.24,1246.74 L210.24,1246.74 L208.39,1241.03Z" fill="#6cc9c9"/><path d="M225.87,1225.31 L230.72,1228.83 L228.87,1234.54 L222.87,1234.54 L221.02,1228.83Z" fill="#6cc9c9"/><path d="M238.50,1213.01 L243.35,1216.53 L241.50,1222.24 L235.50,1222.24 L233.65,1216.53Z" fill="#6cc9c9"/><path d="M251.13,1201.91 L255.98,1205.43 L254.13,1211.14 L248.13,1211.14 L246.28,1205.43Z" fill="#6cc9c9"/><path d="M263.76,1192.01 L268.61,1195.53 L266.76,1201.24 L260.76,1201.24 L258.91,1195.53Z" fill="#6cc9c9"/><path d="M276.39,1184.21 L281.24,1187.73 L279.39,1193.44 L273.39,1193.44 L271.54,1187.73Z" fill="#6cc9c9"/><path d="M289.02,1183.11 L293.87,1186.63 L292.02,1192.34 L286.02,1192.34 L284.17,1186.63Z" fill="#6cc9c9"/><path d="M301.65,1192.01 L306.50,1195.53 L304.65,1201.24 L298.65,1201.24 L296.80,1195.53Z" fill="#6cc9c9"/><path d="M314.28,1208.71 L319.13,1212.23 L317.28,1217.94 L311.28,1217.94 L309.43,1212.23Z" fill="#6cc9c9"/><path d="M326.91,1229.71 L331.76,1233.23 L329.91,1238.94 L323.91,1238.94 L322.06,1233.23Z" fill="#6cc9c9"/><path d="M339.54,1248.61 L344.39,1252.13 L342.54,1257.84 L336.54,1257.84 L334.69,1252.13Z" fill="#6cc9c9"/><path d="M352.17,1263.01 L357.02,1266.53 L355.17,1272.24 L349.17,1272.24 L347.32,1266.53Z" fill="#6cc9c9"/><path d="M364.80,1278.61 L369.65,1282.13 L367.80,1287.84 L361.80,1287.84 L359.95,1282.13Z" fill="#6cc9c9"/><path d="M377.43,1297.41 L382.28,1300.93 L380.43,1306.64 L374.43,1306.64 L372.58,1300.93Z" fill="#6cc9c9"/><path d="M390.06,1314.11 L394.91,1317.63 L393.06,1323.34 L387.06,1323.34 L385.21,1317.63Z" fill="#6cc9c9"/><path d="M402.69,1326.31 L407.54,1329.83 L405.69,1335.54 L399.69,1335.54 L397.84,1329.83Z" fill="#6cc9c9"/><path d="M415.32,1333.41 L420.17,1336.93 L418.32,1342.64 L412.32,1342.64 L410.47,1336.93Z" fill="#6cc9c9"/><path d="M427.95,1336.21 L432.80,1339.73 L430.95,1345.44 L424.95,1345.44 L423.10,1339.73Z" fill="#6cc9c9"/><path d="M440.58,1336.21 L445.43,1339.73 L443.58,1345.44 L437.58,1345.44 L435.73,1339.73Z" fill="#6cc9c9"/><path d="M453.21,1336.21 L458.06,1339.73 L456.21,1345.44 L450.21,1345.44 L448.36,1339.73Z" fill="#6cc9c9"/><path d="M465.84,1336.21 L470.69,1339.73 L468.84,1345.44 L462.84,1345.44 L460.99,1339.73Z" fill="#6cc9c9"/><path d="M478.47,1336.21 L483.32,1339.73 L481.47,1345.44 L475.47,1345.44 L473.62,1339.73Z" fill="#6cc9c9"/><path d="M491.10,1336.21 L495.95,1339.73 L494.10,1345.44 L488.10,1345.44 L486.25,1339.73Z" fill="#6cc9c9"/><path d="M503.73,1336.21 L508.58,1339.73 L506.73,1345.44 L500.73,1345.44 L498.88,1339.73Z" fill="#6cc9c9"/><path d="M516.36,1336.21 L521.21,1339.73 L519.36,1345.44 L513.36,1345.44 L511.51,1339.73Z" fill="#6cc9c9"/><path d="M528.99,1336.21 L533.84,1339.73 L531.99,1345.44 L525.99,1345.44 L524.14,1339.73Z" fill="#6cc9c9"/><path d="M541.62,1336.21 L546.47,1339.73 L544.62,1345.44 L538.62,1345.44 L536.77,1339.73Z" fill="#6cc9c9"/><path d="M554.25,1336.21 L559.10,1339.73 L557.25,1345.44 L551.25,1345.44 L549.40,1339.73Z" fill="#6cc9c9"/><path d="M566.88,1336.21 L571.73,1339.73 L569.88,1345.44 L563.88,1345.44 L562.03,1339.73Z" fill="#6cc9c9"/><path d="M579.51,1336.21 L584.36,1339.73 L582.51,1345.44 L576.51,1345.44 L574.66,1339.73Z" fill="#6cc9c9"/><path d="M592.14,1336.21 L596.99,1339.73 L595.14,1345.44 L589.14,1345.44 L587.29,1339.73Z" fill="#6cc9c9"/><path d="M604.77,1336.21 L609.62,1339.73 L607.77,1345.44 L601.77,1345.44 L599.92,1339.73Z" fill="#6cc9c9"/><path d="M617.40,1336.21 L622.25,1339.73 L620.40,1345.44 L614.40,1345.44 L612.55,1339.73Z" fill="#6cc9c9"/><path d="M630.03,1336.21 L634.88,1339.73 L633.03,1345.44 L627.03,1345.44 L625.18,1339.73Z" fill="#6cc9c9"/><path d="M642.66,1336.21 L647.51,1339.73 L645.66,1345.44 L639.66,1345.44 L637.81,1339.73Z" fill="#6cc9c9"/><path d="M655.29,1336.21 L660.14,1339.73 L658.29,1345.44 L652.29,1345.44 L650.44,1339.73Z" fill="#6cc9c9"/><path d="M667.92,1336.21 L672.77,1339.73 L670.92,1345.44 L664.92,1345.44 L663.07,1339.73Z" fill="#6cc9c9"/><path d="M680.55,1336.21 L685.40,1339.73 L683.55,1345.44 L677.55,1345.44 L675.70,1339.73Z" fill="#6cc9c9"/><path d="M693.18,1336.21 L698.03,1339.73 L696.18,1345.44 L690.18,1345.44 L688.33,1339.73Z" fill="#6cc9c9"/><path d="M705.81,1336.21 L710.66,1339.73 L708.81,1345.44 L702.81,1345.44 L700.96,1339.73Z" fill="#6cc9c9"/><path d="M718.44,1336.21 L723.29,1339.73 L721.44,1345.44 L715.44,1345.44 L713.59,1339.73Z" fill="#6cc9c9"/><path d="M731.07,1336.21 L735.92,1339.73 L734.07,1345.44 L728.07,1345.44 L726.22,1339.73Z" fill="#6cc9c9"/><path d="M112.40,1335.50 L118.40,1326.71 L124.40,1317.88 L130.40,1309.01 L136.40,1300.10 L142.40,1291.15 L148.40,1282.18 L154.40,1273.17 L160.40,1264.15 L166.40,1255.10 L172.40,1246.03 L178.40,1236.95 L184.40,1227.86 L190.40,1218.76 L196.40,1209.65 L202.40,1200.54 L208.40,1191.42 L214.40,1182.31 L220.40,1173.20 L226.40,1164.10 L232.40,1155.00 L238.40,1145.91 L244.40,1136.84 L250.40,1127.77 L256.40,1118.72 L262.40,1109.68 L268.40,1100.66 L274.40,1091.66 L280.40,1082.67 L286.40,1073.70 L292.40,1064.75 L298.40,1055.83 L304.40,1046.92 L310.40,1038.03 L316.40,1029.16 L322.40,1020.32 L328.40,1011.50 L334.40,1002.70 L340.40,993.91 L346.40,984.91 L352.40,975.93 L358.40,966.98 L364.40,958.06 L370.40,949.17 L376.40,940.32 L382.40,931.49 L388.40,922.71 L394.40,913.96 L400.40,905.25 L406.40,896.58 L412.40,887.96 L418.40,879.38 L424.40,870.85 L430.40,862.37 L436.40,853.94 L442.40,845.57 L448.40,837.24 L454.40,828.98 L460.40,820.77 L466.40,812.63 L472.40,804.55 L478.40,796.53 L486.50,785.60 L495.10,782.00 L501.20,791.70 L503.60,802.70 L506.00,828.40 L508.50,865.00 L511.00,911.40 L513.50,980.00 L516.20,1083.50 L518.80,1161.20 L521.40,1225.90 L525.30,1290.60 L529.20,1326.80 L539.50,1332.00 L619.80,1335.90 L740.00,1339.00" stroke="#d42028" stroke-width="2.2" fill="none" stroke-dasharray="7.5 6"/></g><circle cx="364.50" cy="1031.00" r="5.75" fill="#c8232c"/><circle cx="415.80" cy="1194.40" r="5.75" fill="#c8232c"/><circle cx="554.30" cy="1181.30" r="5.75" fill="#c8232c"/><text x="374.50" y="1022.20" font-family="'Liberation Serif', serif" font-size="28" text-anchor="start" fill="#c8232c" font-weight="normal" >E</text><text x="418.00" y="1183.20" font-family="'Liberation Serif', serif" font-size="28" text-anchor="start" fill="#c8232c" font-weight="normal" >F</text><text transform="translate(554.80,1174.10) scale(1.0,1.1)" x="0" y="0" font-family="'Liberation Serif', serif" font-size="28" text-anchor="start" fill="#c8232c" font-weight="normal" >G</text><path d="M638.0,781.5H695.0" stroke="#3f3f3f" stroke-width="2.2"/><rect x="662.21" y="777.21" width="8.58" height="8.58" fill="#484848"/><text x="701.00" y="789.80" font-family="'Liberation Serif', serif" font-size="24.5" text-anchor="start" fill="#000" font-weight="normal" >α=0°</text><path d="M638.0,812.2H695.0" stroke="#dc3a3a" stroke-width="2.2"/><circle cx="666.50" cy="812.20" r="4.73" fill="#d63a3f"/><text x="701.00" y="820.50" font-family="'Liberation Serif', serif" font-size="24.5" text-anchor="start" fill="#000" font-weight="normal" >α=15°</text><path d="M638.0,842.9H695.0" stroke="#3a6ee0" stroke-width="2.2"/><path d="M666.50,837.20L671.67,847.03L661.33,847.03Z" fill="#3a6ee0"/><text x="701.00" y="851.20" font-family="'Liberation Serif', serif" font-size="24.5" text-anchor="start" fill="#000" font-weight="normal" >α=30°</text><path d="M638.0,873.5H695.0" stroke="#55a660" stroke-width="2.2"/><circle cx="666.50" cy="873.50" r="4.95" fill="url(#sph)"/><text x="701.00" y="881.80" font-family="'Liberation Serif', serif" font-size="24.5" text-anchor="start" fill="#000" font-weight="normal" >α=45°</text><path d="M638.0,904.2H695.0" stroke="#9a6ddd" stroke-width="2.2"/><path d="M666.50,898.70 L667.86,902.33 L671.73,902.50 L668.70,904.91 L669.73,908.65 L666.50,906.51 L663.27,908.65 L664.30,904.91 L661.27,902.50 L665.14,902.33Z" fill="#9a6ddd"/><text x="701.00" y="912.50" font-family="'Liberation Serif', serif" font-size="24.5" text-anchor="start" fill="#000" font-weight="normal" >α=60°</text><path d="M638.0,934.9H695.0" stroke="#c9a227" stroke-width="2.2"/><path d="M666.50,928.85L666.50,940.95M662.22,930.62L670.78,939.18M670.78,930.62L662.22,939.18M660.45,934.90L672.55,934.90" stroke="#dcb850" stroke-width="1.1" fill="none"/><text x="701.00" y="943.20" font-family="'Liberation Serif', serif" font-size="24.5" text-anchor="start" fill="#000" font-weight="normal" >α=75°</text><path d="M638.0,965.6H695.0" stroke="#5fc6c6" stroke-width="2.2"/><path d="M666.50,960.55 L671.84,964.43 L669.80,970.70 L663.20,970.70 L661.16,964.43Z" fill="#6cc9c9"/><text x="701.00" y="973.90" font-family="'Liberation Serif', serif" font-size="24.5" text-anchor="start" fill="#000" font-weight="normal" >α=90°</text><path d="M638.0,996H695.0" stroke="#d42028" stroke-width="2.4" stroke-dasharray="11 8.5"/><text x="701.00" y="1004.30" font-family="'Liberation Serif', serif" font-size="24.5" text-anchor="start" fill="#000" font-weight="normal" >complete sample</text>
</svg></body></html>
